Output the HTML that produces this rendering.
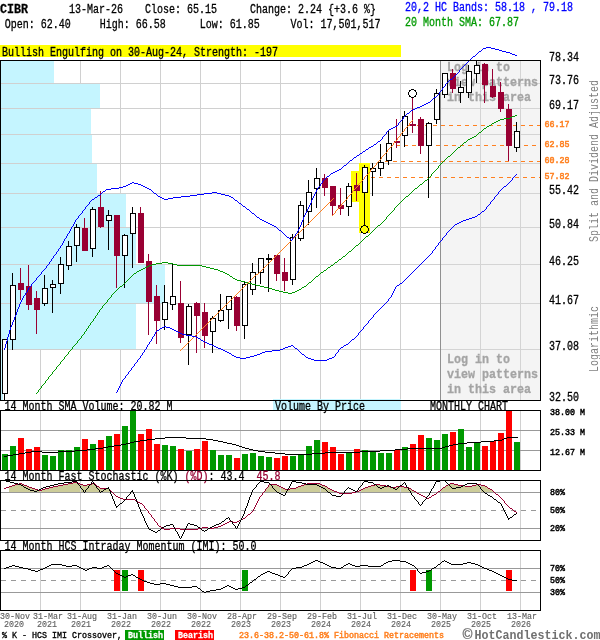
<!DOCTYPE html>
<html><head><meta charset="utf-8"><title>CIBR Monthly Chart</title>
<style>
html,body{margin:0;padding:0;background:#fff;}
svg{display:block;font-family:"Liberation Mono", monospace;}
svg rect,svg line,svg path{shape-rendering:crispEdges;}
</style></head><body>
<svg width="600" height="640" viewBox="0 0 600 640">
<rect x="0" y="0" width="600" height="640" fill="#fff"/>
<text x="0" y="13" font-size="13.5" fill="#000" font-weight="bold" textLength="28" lengthAdjust="spacingAndGlyphs" style="white-space:pre" stroke="#000" stroke-width="0.3">CIBR</text>
<text x="69" y="13" font-size="12.5" fill="#000" font-weight="normal" textLength="54" lengthAdjust="spacingAndGlyphs" style="white-space:pre" stroke="#000" stroke-width="0.3">13-Mar-26</text>
<text x="145" y="13" font-size="12.5" fill="#000" font-weight="normal" textLength="72" lengthAdjust="spacingAndGlyphs" style="white-space:pre" stroke="#000" stroke-width="0.3">Close: 65.15</text>
<text x="250" y="13" font-size="12.5" fill="#000" font-weight="normal" textLength="126" lengthAdjust="spacingAndGlyphs" style="white-space:pre" stroke="#000" stroke-width="0.3">Change: 2.24 {+3.6 %}</text>
<text x="4.7" y="28" font-size="12.5" fill="#000" font-weight="normal" textLength="66" lengthAdjust="spacingAndGlyphs" style="white-space:pre" stroke="#000" stroke-width="0.3">Open: 62.40</text>
<text x="99.7" y="28" font-size="12.5" fill="#000" font-weight="normal" textLength="66" lengthAdjust="spacingAndGlyphs" style="white-space:pre" stroke="#000" stroke-width="0.3">High: 66.58</text>
<text x="199.7" y="28" font-size="12.5" fill="#000" font-weight="normal" textLength="60" lengthAdjust="spacingAndGlyphs" style="white-space:pre" stroke="#000" stroke-width="0.3">Low: 61.85</text>
<text x="290.5" y="28" font-size="12.5" fill="#000" font-weight="normal" textLength="90" lengthAdjust="spacingAndGlyphs" style="white-space:pre" stroke="#000" stroke-width="0.3">Vol: 17,501,517</text>
<text x="405" y="11" font-size="12.5" fill="#0000ff" font-weight="normal" textLength="168" lengthAdjust="spacingAndGlyphs" style="white-space:pre" stroke="#0000ff" stroke-width="0.3">20,2 HC Bands: 58.18 , 79.18</text>
<text x="405" y="26" font-size="12.5" fill="#009900" font-weight="normal" textLength="114" lengthAdjust="spacingAndGlyphs" style="white-space:pre" stroke="#009900" stroke-width="0.3">20 Month SMA: 67.87</text>
<rect x="0" y="45" width="401" height="12" fill="#ffff00"/>
<text x="2" y="56" font-size="12.5" fill="#000" font-weight="normal" textLength="276" lengthAdjust="spacingAndGlyphs" style="white-space:pre" stroke="#000" stroke-width="0.3">Bullish Engulfing on 30-Aug-24, Strength: -197</text>
<rect x="40" y="61" width="1" height="339" fill="#d0d0d0"/>
<rect x="80" y="61" width="1" height="339" fill="#d0d0d0"/>
<rect x="120" y="61" width="1" height="339" fill="#d0d0d0"/>
<rect x="160" y="61" width="1" height="339" fill="#d0d0d0"/>
<rect x="200" y="61" width="1" height="339" fill="#d0d0d0"/>
<rect x="240" y="61" width="1" height="339" fill="#d0d0d0"/>
<rect x="280" y="61" width="1" height="339" fill="#d0d0d0"/>
<rect x="320" y="61" width="1" height="339" fill="#d0d0d0"/>
<rect x="360" y="61" width="1" height="339" fill="#d0d0d0"/>
<rect x="400" y="61" width="1" height="339" fill="#d0d0d0"/>
<rect x="440" y="61" width="1" height="339" fill="#d0d0d0"/>
<rect x="480" y="61" width="1" height="339" fill="#d0d0d0"/>
<rect x="520" y="61" width="1" height="339" fill="#d0d0d0"/>
<rect x="1" y="61" width="53" height="23" fill="#c5f5ff"/>
<rect x="1" y="84" width="99" height="25" fill="#c5f5ff"/>
<rect x="1" y="109" width="90" height="26" fill="#c5f5ff"/>
<rect x="1" y="135" width="91" height="29" fill="#c5f5ff"/>
<rect x="1" y="164" width="96" height="30" fill="#c5f5ff"/>
<rect x="1" y="194" width="125" height="34" fill="#c5f5ff"/>
<rect x="1" y="228" width="135" height="37" fill="#c5f5ff"/>
<rect x="1" y="265" width="164" height="39" fill="#c5f5ff"/>
<rect x="1" y="304" width="135" height="46" fill="#c5f5ff"/>
<rect x="1" y="350" width="2" height="50" fill="#c5f5ff"/>
<rect x="441" y="61" width="99" height="339" fill="#f4f4f4"/>
<rect x="480" y="61" width="1" height="339" fill="#d4d4d4"/>
<rect x="520" y="61" width="1" height="339" fill="#d4d4d4"/>
<rect x="1" y="83" width="440" height="1" fill="#d0d0d0"/>
<rect x="441" y="83" width="99" height="1" fill="#d4d4d4"/>
<rect x="1" y="108" width="440" height="1" fill="#d0d0d0"/>
<rect x="441" y="108" width="99" height="1" fill="#d4d4d4"/>
<rect x="1" y="134" width="440" height="1" fill="#d0d0d0"/>
<rect x="441" y="134" width="99" height="1" fill="#d4d4d4"/>
<rect x="1" y="163" width="440" height="1" fill="#d0d0d0"/>
<rect x="441" y="163" width="99" height="1" fill="#d4d4d4"/>
<rect x="1" y="193" width="440" height="1" fill="#d0d0d0"/>
<rect x="441" y="193" width="99" height="1" fill="#d4d4d4"/>
<rect x="1" y="227" width="440" height="1" fill="#d0d0d0"/>
<rect x="441" y="227" width="99" height="1" fill="#d4d4d4"/>
<rect x="1" y="264" width="440" height="1" fill="#d0d0d0"/>
<rect x="441" y="264" width="99" height="1" fill="#d4d4d4"/>
<rect x="1" y="303" width="440" height="1" fill="#d0d0d0"/>
<rect x="441" y="303" width="99" height="1" fill="#d4d4d4"/>
<rect x="1" y="349" width="440" height="1" fill="#d0d0d0"/>
<rect x="441" y="349" width="99" height="1" fill="#d4d4d4"/>
<rect x="440" y="61" width="1" height="339" fill="#909090"/>
<text x="447" y="71" font-size="13.5" fill="#a4a4a4" font-weight="bold" textLength="63" lengthAdjust="spacingAndGlyphs" style="white-space:pre" stroke="#a4a4a4" stroke-width="0.3">Log in to</text>
<text x="447" y="363" font-size="13.5" fill="#a4a4a4" font-weight="bold" textLength="63" lengthAdjust="spacingAndGlyphs" style="white-space:pre" stroke="#a4a4a4" stroke-width="0.3">Log in to</text>
<text x="447" y="86" font-size="13.5" fill="#a4a4a4" font-weight="bold" textLength="91" lengthAdjust="spacingAndGlyphs" style="white-space:pre" stroke="#a4a4a4" stroke-width="0.3">view patterns</text>
<text x="447" y="378" font-size="13.5" fill="#a4a4a4" font-weight="bold" textLength="91" lengthAdjust="spacingAndGlyphs" style="white-space:pre" stroke="#a4a4a4" stroke-width="0.3">view patterns</text>
<text x="447" y="101" font-size="13.5" fill="#a4a4a4" font-weight="bold" textLength="84" lengthAdjust="spacingAndGlyphs" style="white-space:pre" stroke="#a4a4a4" stroke-width="0.3">in this area</text>
<text x="447" y="393" font-size="13.5" fill="#a4a4a4" font-weight="bold" textLength="84" lengthAdjust="spacingAndGlyphs" style="white-space:pre" stroke="#a4a4a4" stroke-width="0.3">in this area</text>
<rect x="351" y="171" width="8" height="31" fill="#ffff00"/>
<rect x="359" y="163" width="11" height="70" fill="#ffff00"/>
<line x1="409" y1="125.5" x2="540" y2="125.5" stroke="#ff8020" stroke-width="1" stroke-dasharray="4,4"/>
<line x1="396" y1="145.5" x2="540" y2="145.5" stroke="#ff8020" stroke-width="1" stroke-dasharray="4,4"/>
<line x1="385" y1="161.5" x2="540" y2="161.5" stroke="#ff8020" stroke-width="1" stroke-dasharray="4,4"/>
<line x1="371" y1="177.5" x2="540" y2="177.5" stroke="#ff8020" stroke-width="1" stroke-dasharray="4,4"/>
<rect x="4" y="393" width="1" height="8" fill="#000"/>
<rect x="2.5" y="339.5" width="5" height="54" fill="#fff" stroke="#000" stroke-width="1"/>
<rect x="12" y="273" width="1" height="13" fill="#000"/>
<rect x="12" y="339" width="1" height="11" fill="#000"/>
<rect x="10.5" y="285.5" width="5" height="54" fill="#fff" stroke="#000" stroke-width="1"/>
<rect x="20" y="268" width="1" height="32" fill="#990033"/>
<rect x="18" y="283" width="6" height="7" fill="#990033"/>
<rect x="28" y="265" width="1" height="45" fill="#990033"/>
<rect x="26" y="286" width="6" height="19" fill="#990033"/>
<rect x="36" y="291" width="1" height="43" fill="#990033"/>
<rect x="34" y="298" width="6" height="12" fill="#990033"/>
<rect x="44" y="275" width="1" height="14" fill="#000"/>
<rect x="44" y="303" width="1" height="3" fill="#000"/>
<rect x="42.5" y="288.5" width="5" height="15" fill="#fff" stroke="#000" stroke-width="1"/>
<rect x="52" y="280" width="1" height="5" fill="#000"/>
<rect x="52" y="287" width="1" height="26" fill="#000"/>
<rect x="50.5" y="284.5" width="5" height="3" fill="#fff" stroke="#000" stroke-width="1"/>
<rect x="60" y="257" width="1" height="8" fill="#000"/>
<rect x="60" y="283" width="1" height="11" fill="#000"/>
<rect x="58.5" y="264.5" width="5" height="19" fill="#fff" stroke="#000" stroke-width="1"/>
<rect x="68" y="241" width="1" height="6" fill="#000"/>
<rect x="68" y="265" width="1" height="5" fill="#000"/>
<rect x="66.5" y="246.5" width="5" height="19" fill="#fff" stroke="#000" stroke-width="1"/>
<rect x="76" y="224" width="1" height="4" fill="#000"/>
<rect x="76" y="245" width="1" height="17" fill="#000"/>
<rect x="74.5" y="227.5" width="5" height="18" fill="#fff" stroke="#000" stroke-width="1"/>
<rect x="84" y="218" width="1" height="33" fill="#990033"/>
<rect x="82" y="228" width="6" height="23" fill="#990033"/>
<rect x="92" y="207" width="1" height="3" fill="#000"/>
<rect x="92" y="248" width="1" height="9" fill="#000"/>
<rect x="90.5" y="209.5" width="5" height="39" fill="#fff" stroke="#000" stroke-width="1"/>
<rect x="100" y="191" width="1" height="37" fill="#990033"/>
<rect x="98" y="207" width="6" height="20" fill="#990033"/>
<rect x="108" y="210" width="1" height="6" fill="#000"/>
<rect x="108" y="220" width="1" height="30" fill="#000"/>
<rect x="106.5" y="215.5" width="5" height="5" fill="#fff" stroke="#000" stroke-width="1"/>
<rect x="116" y="215" width="1" height="73" fill="#990033"/>
<rect x="114" y="215" width="6" height="41" fill="#990033"/>
<rect x="124" y="234" width="1" height="2" fill="#000"/>
<rect x="124" y="255" width="1" height="33" fill="#000"/>
<rect x="122.5" y="235.5" width="5" height="20" fill="#fff" stroke="#000" stroke-width="1"/>
<rect x="132" y="207" width="1" height="7" fill="#000"/>
<rect x="132" y="233" width="1" height="35" fill="#000"/>
<rect x="130.5" y="213.5" width="5" height="20" fill="#fff" stroke="#000" stroke-width="1"/>
<rect x="140" y="207" width="1" height="56" fill="#990033"/>
<rect x="138" y="213" width="6" height="50" fill="#990033"/>
<rect x="148" y="254" width="1" height="81" fill="#990033"/>
<rect x="146" y="261" width="6" height="41" fill="#990033"/>
<rect x="156" y="285" width="1" height="59" fill="#990033"/>
<rect x="154" y="296" width="6" height="25" fill="#990033"/>
<rect x="164" y="285" width="1" height="18" fill="#000"/>
<rect x="164" y="319" width="1" height="11" fill="#000"/>
<rect x="162.5" y="302.5" width="5" height="17" fill="#fff" stroke="#000" stroke-width="1"/>
<rect x="172" y="263" width="1" height="34" fill="#000"/>
<rect x="172" y="304" width="1" height="6" fill="#000"/>
<rect x="170.5" y="296.5" width="5" height="8" fill="#fff" stroke="#000" stroke-width="1"/>
<rect x="180" y="281" width="1" height="62" fill="#990033"/>
<rect x="178" y="303" width="6" height="35" fill="#990033"/>
<rect x="188" y="304" width="1" height="3" fill="#000"/>
<rect x="188" y="334" width="1" height="31" fill="#000"/>
<rect x="186.5" y="306.5" width="5" height="28" fill="#fff" stroke="#000" stroke-width="1"/>
<rect x="196" y="302" width="1" height="51" fill="#990033"/>
<rect x="194" y="303" width="6" height="13" fill="#990033"/>
<rect x="204" y="303" width="1" height="45" fill="#990033"/>
<rect x="202" y="312" width="6" height="24" fill="#990033"/>
<rect x="212" y="316" width="1" height="3" fill="#000"/>
<rect x="212" y="331" width="1" height="22" fill="#000"/>
<rect x="210.5" y="318.5" width="5" height="13" fill="#fff" stroke="#000" stroke-width="1"/>
<rect x="220" y="294" width="1" height="17" fill="#000"/>
<rect x="220" y="320" width="1" height="2" fill="#000"/>
<rect x="218.5" y="310.5" width="5" height="10" fill="#fff" stroke="#000" stroke-width="1"/>
<rect x="228" y="309" width="1" height="20" fill="#000"/>
<rect x="226.5" y="296.5" width="5" height="13" fill="#fff" stroke="#000" stroke-width="1"/>
<rect x="236" y="296" width="1" height="35" fill="#990033"/>
<rect x="234" y="297" width="6" height="29" fill="#990033"/>
<rect x="244" y="281" width="1" height="4" fill="#000"/>
<rect x="244" y="325" width="1" height="14" fill="#000"/>
<rect x="242.5" y="284.5" width="5" height="41" fill="#fff" stroke="#000" stroke-width="1"/>
<rect x="252" y="263" width="1" height="10" fill="#000"/>
<rect x="252" y="289" width="1" height="6" fill="#000"/>
<rect x="250.5" y="272.5" width="5" height="17" fill="#fff" stroke="#000" stroke-width="1"/>
<rect x="260" y="272" width="1" height="12" fill="#000"/>
<rect x="258.5" y="258.5" width="5" height="14" fill="#fff" stroke="#000" stroke-width="1"/>
<rect x="268" y="254" width="1" height="5" fill="#000"/>
<rect x="268" y="259" width="1" height="33" fill="#000"/>
<rect x="266" y="258" width="6" height="2" fill="#000"/>
<rect x="276" y="255" width="1" height="26" fill="#990033"/>
<rect x="274" y="255" width="6" height="19" fill="#990033"/>
<rect x="284" y="258" width="1" height="33" fill="#990033"/>
<rect x="282" y="272" width="6" height="9" fill="#990033"/>
<rect x="292" y="234" width="1" height="4" fill="#000"/>
<rect x="292" y="279" width="1" height="6" fill="#000"/>
<rect x="290.5" y="237.5" width="5" height="42" fill="#fff" stroke="#000" stroke-width="1"/>
<rect x="300" y="201" width="1" height="5" fill="#000"/>
<rect x="300" y="238" width="1" height="3" fill="#000"/>
<rect x="298.5" y="205.5" width="5" height="33" fill="#fff" stroke="#000" stroke-width="1"/>
<rect x="308" y="180" width="1" height="13" fill="#000"/>
<rect x="308" y="211" width="1" height="14" fill="#000"/>
<rect x="306.5" y="192.5" width="5" height="19" fill="#fff" stroke="#000" stroke-width="1"/>
<rect x="316" y="168" width="1" height="11" fill="#000"/>
<rect x="316" y="188" width="1" height="20" fill="#000"/>
<rect x="314.5" y="178.5" width="5" height="10" fill="#fff" stroke="#000" stroke-width="1"/>
<rect x="324" y="174" width="1" height="22" fill="#990033"/>
<rect x="322" y="178" width="6" height="10" fill="#990033"/>
<rect x="332" y="186" width="1" height="30" fill="#990033"/>
<rect x="330" y="186" width="6" height="20" fill="#990033"/>
<rect x="340" y="188" width="1" height="27" fill="#990033"/>
<rect x="338" y="205" width="6" height="4" fill="#990033"/>
<rect x="348" y="183" width="1" height="4" fill="#000"/>
<rect x="348" y="206" width="1" height="10" fill="#000"/>
<rect x="346.5" y="186.5" width="5" height="20" fill="#fff" stroke="#000" stroke-width="1"/>
<rect x="356" y="173" width="1" height="28" fill="#990033"/>
<rect x="354" y="185" width="6" height="6" fill="#990033"/>
<rect x="364" y="165" width="1" height="3" fill="#000"/>
<rect x="364" y="192" width="1" height="34" fill="#000"/>
<rect x="362.5" y="167.5" width="5" height="25" fill="#fff" stroke="#000" stroke-width="1"/>
<rect x="372" y="163" width="1" height="6" fill="#000"/>
<rect x="372" y="171" width="1" height="25" fill="#000"/>
<rect x="370.5" y="168.5" width="5" height="3" fill="#fff" stroke="#000" stroke-width="1"/>
<rect x="380" y="144" width="1" height="19" fill="#000"/>
<rect x="380" y="168" width="1" height="8" fill="#000"/>
<rect x="378.5" y="162.5" width="5" height="6" fill="#fff" stroke="#000" stroke-width="1"/>
<rect x="388" y="130" width="1" height="14" fill="#000"/>
<rect x="388" y="160" width="1" height="5" fill="#000"/>
<rect x="386.5" y="143.5" width="5" height="17" fill="#fff" stroke="#000" stroke-width="1"/>
<rect x="396" y="119" width="1" height="29" fill="#990033"/>
<rect x="394" y="141" width="6" height="2" fill="#990033"/>
<rect x="404" y="111" width="1" height="6" fill="#000"/>
<rect x="404" y="135" width="1" height="12" fill="#000"/>
<rect x="402.5" y="116.5" width="5" height="19" fill="#fff" stroke="#000" stroke-width="1"/>
<rect x="412" y="97" width="1" height="36" fill="#990033"/>
<rect x="410" y="124" width="6" height="2" fill="#990033"/>
<rect x="420" y="117" width="1" height="37" fill="#990033"/>
<rect x="418" y="119" width="6" height="27" fill="#990033"/>
<rect x="428" y="122" width="1" height="2" fill="#000"/>
<rect x="428" y="145" width="1" height="53" fill="#000"/>
<rect x="426.5" y="123.5" width="5" height="22" fill="#fff" stroke="#000" stroke-width="1"/>
<rect x="436" y="89" width="1" height="5" fill="#000"/>
<rect x="436" y="119" width="1" height="5" fill="#000"/>
<rect x="434.5" y="93.5" width="5" height="26" fill="#fff" stroke="#000" stroke-width="1"/>
<rect x="444" y="94" width="1" height="4" fill="#000"/>
<rect x="442.5" y="73.5" width="5" height="21" fill="#fff" stroke="#000" stroke-width="1"/>
<rect x="452" y="69" width="1" height="24" fill="#990033"/>
<rect x="450" y="73" width="6" height="16" fill="#990033"/>
<rect x="460" y="81" width="1" height="7" fill="#000"/>
<rect x="460" y="92" width="1" height="11" fill="#000"/>
<rect x="458.5" y="87.5" width="5" height="5" fill="#fff" stroke="#000" stroke-width="1"/>
<rect x="468" y="65" width="1" height="7" fill="#000"/>
<rect x="468" y="92" width="1" height="6" fill="#000"/>
<rect x="466.5" y="71.5" width="5" height="21" fill="#fff" stroke="#000" stroke-width="1"/>
<rect x="476" y="61" width="1" height="5" fill="#000"/>
<rect x="476" y="73" width="1" height="10" fill="#000"/>
<rect x="474.5" y="65.5" width="5" height="8" fill="#fff" stroke="#000" stroke-width="1"/>
<rect x="484" y="63" width="1" height="40" fill="#990033"/>
<rect x="482" y="64" width="6" height="21" fill="#990033"/>
<rect x="492" y="69" width="1" height="29" fill="#990033"/>
<rect x="490" y="86" width="6" height="11" fill="#990033"/>
<rect x="500" y="82" width="1" height="30" fill="#990033"/>
<rect x="498" y="92" width="6" height="17" fill="#990033"/>
<rect x="508" y="104" width="1" height="57" fill="#990033"/>
<rect x="506" y="109" width="6" height="37" fill="#990033"/>
<rect x="516" y="122" width="1" height="10" fill="#000"/>
<rect x="516" y="147" width="1" height="5" fill="#000"/>
<rect x="514.5" y="131.5" width="5" height="16" fill="#fff" stroke="#000" stroke-width="1"/>
<path d="M333 198.5h1M332 199.5h1M331 200.5h1M330 201.5h1M329 202.5h1M328 203.5h1M327 204.5h1M326 205.5h1M325 206.5h1M324 207.5h1M323 208.5h1M322 209.5h1M321 210.5h1M320 211.5h1M319 212.5h1M318 213.5h1M317 214.5h1M316 215.5h1M315 216.5h1M314 217.5h1M313 218.5h1M312 219.5h1M311 220.5h1M310 221.5h1M309 222.5h1M308 223.5h1M307 224.5h1M306 225.5h1M305 226.5h1M304 227.5h1M303 228.5h1M302 229.5h1M301 230.5h1M300 231.5h1M299 232.5h1M298 233.5h1M297 234.5h1M296 235.5h1M295 236.5h1M294 237.5h1M293 238.5h1M292 239.5h1M291 240.5h1M290 241.5h1M289 242.5h1M288 243.5h1M287 244.5h1M286 245.5h1M285 246.5h1M284 247.5h1M283 248.5h1M282 249.5h1M281 250.5h1M280 251.5h1M279 252.5h1M278 253.5h1M277 254.5h1M276 255.5h1M275 256.5h1M274 257.5h1M273 258.5h1M272 259.5h1M271 260.5h1M270 261.5h1M269 262.5h1M268 263.5h1M267 264.5h1M266 265.5h1M265 266.5h1M264 267.5h1M263 268.5h1M262 269.5h1M261 270.5h1M260 271.5h1M259 272.5h1M258 273.5h1M256 274.5h2M255 275.5h1M254 276.5h1M253 277.5h1M252 278.5h1M251 279.5h1M250 280.5h1M249 281.5h1M248 282.5h1M247 283.5h1M246 284.5h1M245 285.5h1M244 286.5h1M243 287.5h1M242 288.5h1M241 289.5h1M240 290.5h1M239 291.5h1M238 292.5h1M237 293.5h1M236 294.5h1M235 295.5h1M234 296.5h1M233 297.5h1M232 298.5h1M231 299.5h1M230 300.5h1M229 301.5h1M228 302.5h1M227 303.5h1M226 304.5h1M225 305.5h1M224 306.5h1M223 307.5h1M222 308.5h1M221 309.5h1M220 310.5h1M219 311.5h1M218 312.5h1M217 313.5h1M216 314.5h1M215 315.5h1M214 316.5h1M213 317.5h1M212 318.5h1M211 319.5h1M210 320.5h1M209 321.5h1M208 322.5h1M207 323.5h1M206 324.5h1M205 325.5h1M204 326.5h1M203 327.5h1M202 328.5h1M201 329.5h1M200 330.5h1M199 331.5h1M198 332.5h1M197 333.5h1M196 334.5h1M195 335.5h1M194 336.5h1M193 337.5h1M192 338.5h1M191 339.5h1M190 340.5h1M189 341.5h1M188 342.5h1M187 343.5h1M186 344.5h1M185 345.5h1M184 346.5h1M183 347.5h1M182 348.5h1M181 349.5h1M180 350.5h1" stroke="#ff8020" stroke-width="1" fill="none"/>
<path d="M412 120.5h1M411 121.5h1M410 122.5h1M409 123.5h1M409 124.5h1M408 125.5h1M407 126.5h1M406 127.5h1M405 128.5h1M404 129.5h1M404 130.5h1M403 131.5h1M402 132.5h1M401 133.5h1M400 134.5h1M400 135.5h1M399 136.5h1M398 137.5h1M397 138.5h1M397 139.5h1M396 140.5h1M395 141.5h1M394 142.5h1M393 143.5h1M393 144.5h1M392 145.5h1M391 146.5h1M390 147.5h1M389 148.5h1M388 149.5h1M387 150.5h1M387 151.5h1M386 152.5h1M385 153.5h1M384 154.5h1M383 155.5h1M382 156.5h1M381 157.5h1M381 158.5h1M380 159.5h1M379 160.5h1M378 161.5h1M377 162.5h1M376 163.5h1M376 164.5h1M375 165.5h1M374 166.5h1M373 167.5h1M372 168.5h1M371 169.5h1M370 170.5h1M370 171.5h1M369 172.5h1M368 173.5h1M367 174.5h1M366 175.5h1M365 176.5h1M364 177.5h1M364 178.5h1M363 179.5h1M362 180.5h1M361 181.5h1M360 182.5h1M359 183.5h1M358 184.5h1M358 185.5h1M357 186.5h1M356 187.5h1M355 188.5h1M354 189.5h1M353 190.5h1M352 191.5h1M352 192.5h1M351 193.5h1M350 194.5h1M349 195.5h1M348 196.5h1M347 197.5h1M347 198.5h1M346 199.5h1M345 200.5h1M344 201.5h1M343 202.5h1M342 203.5h1M341 204.5h1M341 205.5h1M340 206.5h1M339 207.5h1M338 208.5h1M337 209.5h1M336 210.5h1M335 211.5h1M335 212.5h1M334 213.5h1M333 214.5h1M332 215.5h1" stroke="#ff8020" stroke-width="1" fill="none"/>
<path d="M363 225.5h3M361 226.5h2M366 226.5h2M361 227.5h1M367 227.5h1M360 228.5h1M368 228.5h1M360 229.5h1M368 229.5h1M360 230.5h1M368 230.5h1M361 231.5h1M367 231.5h1M361 232.5h2M366 232.5h2M363 233.5h3" stroke="#000" stroke-width="1" fill="none"/>
<path d="M411 89.5h3M409 90.5h2M414 90.5h2M409 91.5h1M415 91.5h1M408 92.5h1M416 92.5h1M408 93.5h1M416 93.5h1M408 94.5h1M416 94.5h1M409 95.5h1M415 95.5h1M409 96.5h2M414 96.5h2M411 97.5h3" stroke="#000" stroke-width="1" fill="none"/>
<path d="M486 47.5h5M483 48.5h3M491 48.5h4M482 49.5h1M495 49.5h4M481 50.5h1M499 50.5h3M479 51.5h2M502 51.5h4M478 52.5h1M506 52.5h4M477 53.5h1M510 53.5h2M476 54.5h1M512 54.5h3M475 55.5h1M515 55.5h2M473 56.5h2M472 57.5h1M471 58.5h1M470 59.5h1M469 60.5h1M468 61.5h1M467 62.5h1M466 63.5h1M465 64.5h1M464 65.5h1M463 66.5h1M462 67.5h1M461 68.5h1M460 69.5h1M459 70.5h1M459 71.5h1M458 72.5h1M457 73.5h1M456 74.5h1M455 75.5h1M454 76.5h1M453 77.5h1M452 78.5h1M450 79.5h2M449 80.5h1M448 81.5h1M447 82.5h1M446 83.5h1M445 84.5h1M445 85.5h1M444 86.5h1M443 87.5h1M442 88.5h1M442 89.5h1M441 90.5h1M440 91.5h1M439 92.5h1M439 93.5h1M438 94.5h1M437 95.5h1M436 96.5h1M434 97.5h2M433 98.5h1M432 99.5h1M431 100.5h1M430 101.5h1M428 102.5h2M426 103.5h2M424 104.5h2M422 105.5h2M420 106.5h2M417 107.5h3M415 108.5h2M413 109.5h2M411 110.5h2M410 111.5h1M409 112.5h1M407 113.5h2M406 114.5h1M405 115.5h1M404 116.5h1M403 117.5h1M403 118.5h1M402 119.5h1M401 120.5h1M400 121.5h1M399 122.5h1M398 123.5h1M398 124.5h1M397 125.5h1M395 126.5h2M393 127.5h2M391 128.5h2M389 129.5h2M388 130.5h1M387 131.5h1M386 132.5h1M386 133.5h1M385 134.5h1M384 135.5h1M383 136.5h1M382 137.5h1M382 138.5h1M381 139.5h1M380 140.5h1M378 141.5h2M377 142.5h1M376 143.5h1M374 144.5h2M373 145.5h1M371 146.5h2M369 147.5h2M368 148.5h1M366 149.5h2M365 150.5h1M363 151.5h2M362 152.5h1M360 153.5h2M359 154.5h1M357 155.5h2M356 156.5h1M354 157.5h2M353 158.5h1M352 159.5h1M350 160.5h2M349 161.5h1M348 162.5h1M347 163.5h1M346 164.5h1M344 165.5h2M343 166.5h1M342 167.5h1M341 168.5h1M339 169.5h2M337 170.5h2M335 171.5h2M333 172.5h2M331 173.5h2M330 174.5h1M329 175.5h1M327 176.5h2M326 177.5h1M325 178.5h1M324 179.5h1M323 180.5h1M322 181.5h1M132 182.5h2M322 182.5h1M130 183.5h2M134 183.5h4M321 183.5h1M128 184.5h2M138 184.5h3M320 184.5h1M126 185.5h2M141 185.5h2M320 185.5h1M123 186.5h3M143 186.5h2M319 186.5h1M119 187.5h4M145 187.5h2M318 187.5h1M111 188.5h8M147 188.5h2M317 188.5h1M106 189.5h5M149 189.5h2M317 189.5h1M105 190.5h1M151 190.5h1M316 190.5h1M103 191.5h2M152 191.5h1M316 191.5h1M102 192.5h1M153 192.5h1M212 192.5h5M315 192.5h1M101 193.5h1M154 193.5h2M204 193.5h8M217 193.5h4M315 193.5h1M100 194.5h1M156 194.5h1M197 194.5h7M221 194.5h4M314 194.5h1M98 195.5h2M157 195.5h1M190 195.5h7M225 195.5h4M314 195.5h1M97 196.5h1M158 196.5h2M181 196.5h9M229 196.5h2M313 196.5h1M95 197.5h2M160 197.5h2M173 197.5h8M231 197.5h2M313 197.5h1M94 198.5h1M162 198.5h2M168 198.5h5M233 198.5h1M312 198.5h1M92 199.5h2M164 199.5h4M234 199.5h1M312 199.5h1M91 200.5h1M235 200.5h2M311 200.5h1M90 201.5h1M237 201.5h1M311 201.5h1M89 202.5h1M238 202.5h1M311 202.5h1M89 203.5h1M239 203.5h2M310 203.5h1M88 204.5h1M241 204.5h1M310 204.5h1M87 205.5h1M242 205.5h1M309 205.5h1M86 206.5h1M243 206.5h2M309 206.5h1M85 207.5h1M245 207.5h1M308 207.5h1M85 208.5h1M246 208.5h1M308 208.5h1M84 209.5h1M247 209.5h2M307 209.5h1M83 210.5h1M249 210.5h1M307 210.5h1M82 211.5h1M250 211.5h1M306 211.5h1M82 212.5h1M251 212.5h1M306 212.5h1M81 213.5h1M252 213.5h2M305 213.5h1M80 214.5h1M254 214.5h1M305 214.5h1M79 215.5h1M255 215.5h1M304 215.5h1M78 216.5h1M256 216.5h1M304 216.5h1M78 217.5h1M257 217.5h2M303 217.5h1M77 218.5h1M259 218.5h1M303 218.5h1M76 219.5h1M260 219.5h2M303 219.5h1M75 220.5h1M262 220.5h2M302 220.5h1M75 221.5h1M264 221.5h2M302 221.5h1M74 222.5h1M266 222.5h2M301 222.5h1M74 223.5h1M268 223.5h2M301 223.5h1M73 224.5h1M270 224.5h2M301 224.5h1M73 225.5h1M272 225.5h2M300 225.5h1M72 226.5h1M274 226.5h2M300 226.5h1M71 227.5h1M276 227.5h1M299 227.5h1M71 228.5h1M277 228.5h1M299 228.5h1M70 229.5h1M278 229.5h1M298 229.5h1M70 230.5h1M279 230.5h2M298 230.5h1M69 231.5h1M281 231.5h1M297 231.5h1M69 232.5h1M282 232.5h1M297 232.5h1M68 233.5h1M283 233.5h1M296 233.5h1M67 234.5h1M284 234.5h1M295 234.5h1M67 235.5h1M285 235.5h1M295 235.5h1M66 236.5h1M286 236.5h1M294 236.5h1M66 237.5h1M287 237.5h2M293 237.5h1M65 238.5h1M289 238.5h1M292 238.5h1M64 239.5h1M290 239.5h1M292 239.5h1M64 240.5h1M291 240.5h1M63 241.5h1M63 242.5h1M62 243.5h1M62 244.5h1M61 245.5h1M60 246.5h1M60 247.5h1M59 248.5h1M58 249.5h1M58 250.5h1M57 251.5h1M56 252.5h1M56 253.5h1M55 254.5h1M54 255.5h1M53 256.5h1M53 257.5h1M52 258.5h1M51 259.5h1M51 260.5h1M50 261.5h1M49 262.5h1M49 263.5h1M48 264.5h1M47 265.5h1M46 266.5h1M46 267.5h1M45 268.5h1M44 269.5h1M43 270.5h1M42 271.5h1M41 272.5h1M41 273.5h1M40 274.5h1M39 275.5h1M38 276.5h1M37 277.5h1M36 278.5h1M36 279.5h1M35 280.5h1M34 281.5h1M33 282.5h1M32 283.5h1M31 284.5h1M31 285.5h1M30 286.5h1M29 287.5h1M28 288.5h1M28 289.5h1M27 290.5h1M27 291.5h1M26 292.5h1M25 293.5h1M25 294.5h1M24 295.5h1M23 296.5h1M23 297.5h1M22 298.5h1M22 299.5h1M21 300.5h1M21 301.5h1M20 302.5h1M20 303.5h1M19 304.5h1M19 305.5h1M19 306.5h1M18 307.5h1M18 308.5h1M17 309.5h1M17 310.5h1M17 311.5h1M16 312.5h1M16 313.5h1M16 314.5h1M15 315.5h1M15 316.5h1M14 317.5h1M14 318.5h1M14 319.5h1M13 320.5h1M13 321.5h1M12 322.5h1M12 323.5h1M12 324.5h1M11 325.5h1M11 326.5h1M10 327.5h1M10 328.5h1M10 329.5h1M9 330.5h1M9 331.5h1M9 332.5h1M9 333.5h1M8 334.5h1M8 335.5h1M8 336.5h1M7 337.5h1M7 338.5h1M7 339.5h1M7 340.5h1M6 341.5h1M6 342.5h1M6 343.5h1M5 344.5h1M5 345.5h1M5 346.5h1M5 347.5h1M4 348.5h1M4 349.5h1" stroke="#0000ff" stroke-width="1" fill="none"/>
<path d="M516 174.5h1M515 175.5h1M514 176.5h1M513 177.5h1M512 178.5h1M512 179.5h1M511 180.5h1M510 181.5h1M509 182.5h1M508 183.5h1M507 184.5h1M506 185.5h1M504 186.5h2M503 187.5h1M502 188.5h1M501 189.5h1M500 190.5h1M499 191.5h1M498 192.5h1M498 193.5h1M497 194.5h1M496 195.5h1M495 196.5h1M494 197.5h1M494 198.5h1M493 199.5h1M492 200.5h1M491 201.5h1M490 202.5h1M490 203.5h1M489 204.5h1M488 205.5h1M487 206.5h1M486 207.5h1M486 208.5h1M485 209.5h1M484 210.5h1M482 211.5h2M481 212.5h1M480 213.5h1M478 214.5h2M477 215.5h1M475 216.5h2M472 217.5h3M469 218.5h3M466 219.5h3M463 220.5h3M461 221.5h2M459 222.5h2M457 223.5h2M455 224.5h2M454 225.5h1M453 226.5h1M452 227.5h1M451 228.5h1M450 229.5h1M449 230.5h1M448 231.5h1M447 232.5h1M446 233.5h1M446 234.5h1M445 235.5h1M444 236.5h1M443 237.5h1M442 238.5h1M442 239.5h1M441 240.5h1M440 241.5h1M439 242.5h1M438 243.5h1M438 244.5h1M437 245.5h1M436 246.5h1M435 247.5h1M435 248.5h1M434 249.5h1M433 250.5h1M432 251.5h1M432 252.5h1M431 253.5h1M430 254.5h1M429 255.5h1M428 256.5h1M427 257.5h1M426 258.5h1M425 259.5h1M424 260.5h1M423 261.5h1M422 262.5h1M421 263.5h1M420 264.5h1M419 265.5h1M418 266.5h1M417 267.5h1M416 268.5h1M415 269.5h1M414 270.5h1M413 271.5h1M412 272.5h1M411 273.5h1M410 274.5h1M409 275.5h1M408 276.5h1M407 277.5h1M406 278.5h1M405 279.5h1M404 280.5h1M403 281.5h1M402 282.5h1M400 283.5h2M399 284.5h1M397 285.5h2M396 286.5h1M395 287.5h1M395 288.5h1M394 289.5h1M394 290.5h1M393 291.5h1M393 292.5h1M392 293.5h1M392 294.5h1M391 295.5h1M391 296.5h1M390 297.5h1M389 298.5h1M388 299.5h1M388 300.5h1M387 301.5h1M386 302.5h1M385 303.5h1M384 304.5h1M383 305.5h1M382 306.5h1M381 307.5h1M380 308.5h1M379 309.5h1M378 310.5h1M377 311.5h1M376 312.5h1M375 313.5h1M374 314.5h1M373 315.5h1M373 316.5h1M372 317.5h1M371 318.5h1M370 319.5h1M369 320.5h1M368 321.5h1M368 322.5h1M367 323.5h1M366 324.5h1M365 325.5h1M164 326.5h2M364 326.5h1M162 327.5h2M166 327.5h4M363 327.5h1M160 328.5h2M170 328.5h2M363 328.5h1M159 329.5h1M172 329.5h2M362 329.5h1M157 330.5h2M174 330.5h2M361 330.5h1M156 331.5h1M176 331.5h2M360 331.5h1M155 332.5h1M178 332.5h2M359 332.5h1M155 333.5h1M180 333.5h2M358 333.5h1M154 334.5h1M182 334.5h4M358 334.5h1M154 335.5h1M186 335.5h6M357 335.5h1M153 336.5h1M192 336.5h4M356 336.5h1M152 337.5h1M196 337.5h2M355 337.5h1M152 338.5h1M198 338.5h2M354 338.5h1M151 339.5h1M200 339.5h1M352 339.5h2M151 340.5h1M201 340.5h2M351 340.5h1M150 341.5h1M203 341.5h2M350 341.5h1M149 342.5h1M205 342.5h2M349 342.5h1M149 343.5h1M207 343.5h2M348 343.5h1M148 344.5h1M209 344.5h3M346 344.5h2M147 345.5h1M212 345.5h2M291 345.5h2M344 345.5h2M147 346.5h1M214 346.5h2M288 346.5h3M293 346.5h1M343 346.5h1M146 347.5h1M216 347.5h2M285 347.5h3M294 347.5h1M341 347.5h2M146 348.5h1M218 348.5h3M283 348.5h2M295 348.5h2M340 348.5h1M145 349.5h1M221 349.5h2M280 349.5h3M297 349.5h1M339 349.5h1M144 350.5h1M223 350.5h2M272 350.5h8M298 350.5h1M338 350.5h1M144 351.5h1M225 351.5h2M265 351.5h7M299 351.5h1M338 351.5h1M143 352.5h1M227 352.5h2M262 352.5h3M300 352.5h1M337 352.5h1M142 353.5h1M229 353.5h2M260 353.5h2M301 353.5h1M336 353.5h1M142 354.5h1M231 354.5h1M257 354.5h3M302 354.5h2M335 354.5h1M141 355.5h1M232 355.5h2M254 355.5h3M304 355.5h1M335 355.5h1M140 356.5h1M234 356.5h2M250 356.5h4M305 356.5h1M334 356.5h1M140 357.5h1M236 357.5h4M246 357.5h4M306 357.5h2M332 357.5h2M139 358.5h1M240 358.5h6M308 358.5h3M329 358.5h3M138 359.5h1M311 359.5h3M327 359.5h2M137 360.5h1M314 360.5h13M137 361.5h1M136 362.5h1M135 363.5h1M134 364.5h1M134 365.5h1M133 366.5h1M132 367.5h1M131 368.5h1M131 369.5h1M130 370.5h1M129 371.5h1M128 372.5h1M128 373.5h1M127 374.5h1M126 375.5h1M125 376.5h1M125 377.5h1M124 378.5h1M123 379.5h1M122 380.5h1M122 381.5h1M121 382.5h1M121 383.5h1M120 384.5h1M120 385.5h1M119 386.5h1M119 387.5h1M118 388.5h1M118 389.5h1M117 390.5h1M117 391.5h1M116 392.5h1" stroke="#0000ff" stroke-width="1" fill="none"/>
<path d="M515 115.5h2M512 116.5h3M510 117.5h2M504 118.5h6M500 119.5h4M498 120.5h2M496 121.5h2M494 122.5h2M492 123.5h2M491 124.5h1M489 125.5h2M487 126.5h2M486 127.5h1M484 128.5h2M483 129.5h1M482 130.5h1M481 131.5h1M479 132.5h2M478 133.5h1M477 134.5h1M476 135.5h1M474 136.5h2M472 137.5h2M470 138.5h2M468 139.5h2M467 140.5h1M466 141.5h1M464 142.5h2M463 143.5h1M462 144.5h1M461 145.5h1M460 146.5h1M458 147.5h2M457 148.5h1M456 149.5h1M455 150.5h1M454 151.5h1M453 152.5h1M452 153.5h1M451 154.5h1M450 155.5h1M448 156.5h2M447 157.5h1M446 158.5h1M445 159.5h1M444 160.5h1M443 161.5h1M442 162.5h1M441 163.5h1M440 164.5h1M439 165.5h1M438 166.5h1M438 167.5h1M437 168.5h1M436 169.5h1M435 170.5h1M434 171.5h1M433 172.5h1M432 173.5h1M431 174.5h1M431 175.5h1M430 176.5h1M429 177.5h1M428 178.5h1M427 179.5h1M425 180.5h2M424 181.5h1M423 182.5h1M422 183.5h1M420 184.5h2M419 185.5h1M418 186.5h1M417 187.5h1M415 188.5h2M414 189.5h1M413 190.5h1M412 191.5h1M411 192.5h1M410 193.5h1M409 194.5h1M408 195.5h1M406 196.5h2M405 197.5h1M404 198.5h1M403 199.5h1M402 200.5h1M401 201.5h1M400 202.5h1M399 203.5h1M398 204.5h1M397 205.5h1M396 206.5h1M395 207.5h1M394 208.5h1M394 209.5h1M393 210.5h1M392 211.5h1M391 212.5h1M390 213.5h1M389 214.5h1M388 215.5h1M387 216.5h1M386 217.5h1M386 218.5h1M385 219.5h1M384 220.5h1M383 221.5h1M382 222.5h1M381 223.5h1M380 224.5h1M378 225.5h2M377 226.5h1M376 227.5h1M375 228.5h1M374 229.5h1M373 230.5h1M372 231.5h1M371 232.5h1M370 233.5h1M369 234.5h1M368 235.5h1M366 236.5h2M365 237.5h1M364 238.5h1M363 239.5h1M362 240.5h1M361 241.5h1M360 242.5h1M359 243.5h1M358 244.5h1M356 245.5h2M355 246.5h1M354 247.5h1M353 248.5h1M352 249.5h1M351 250.5h1M349 251.5h2M348 252.5h1M347 253.5h1M346 254.5h1M345 255.5h1M343 256.5h2M342 257.5h1M341 258.5h1M339 259.5h2M338 260.5h1M337 261.5h1M162 262.5h6M335 262.5h2M156 263.5h6M168 263.5h5M334 263.5h1M152 264.5h4M173 264.5h4M333 264.5h1M149 265.5h3M177 265.5h25M331 265.5h2M147 266.5h2M202 266.5h4M330 266.5h1M145 267.5h2M206 267.5h4M328 267.5h2M143 268.5h2M210 268.5h4M327 268.5h1M141 269.5h2M214 269.5h4M326 269.5h1M139 270.5h2M218 270.5h2M324 270.5h2M137 271.5h2M220 271.5h3M323 271.5h1M136 272.5h1M223 272.5h2M321 272.5h2M134 273.5h2M225 273.5h2M320 273.5h1M133 274.5h1M227 274.5h2M319 274.5h1M132 275.5h1M229 275.5h1M318 275.5h1M131 276.5h1M230 276.5h2M316 276.5h2M130 277.5h1M232 277.5h1M315 277.5h1M129 278.5h1M233 278.5h2M314 278.5h1M128 279.5h1M235 279.5h2M313 279.5h1M127 280.5h1M237 280.5h4M312 280.5h1M126 281.5h1M241 281.5h4M311 281.5h1M125 282.5h1M245 282.5h3M309 282.5h2M124 283.5h1M248 283.5h4M308 283.5h1M123 284.5h1M252 284.5h4M307 284.5h1M122 285.5h1M256 285.5h4M306 285.5h1M120 286.5h2M260 286.5h4M304 286.5h2M119 287.5h1M264 287.5h4M302 287.5h2M118 288.5h1M268 288.5h4M301 288.5h1M117 289.5h1M272 289.5h3M299 289.5h2M116 290.5h1M275 290.5h4M297 290.5h2M115 291.5h1M279 291.5h4M295 291.5h2M114 292.5h1M283 292.5h5M292 292.5h3M113 293.5h1M288 293.5h4M112 294.5h1M111 295.5h1M111 296.5h1M110 297.5h1M109 298.5h1M108 299.5h1M107 300.5h1M107 301.5h1M106 302.5h1M105 303.5h1M104 304.5h1M103 305.5h1M102 306.5h1M102 307.5h1M101 308.5h1M100 309.5h1M99 310.5h1M99 311.5h1M98 312.5h1M97 313.5h1M97 314.5h1M96 315.5h1M95 316.5h1M95 317.5h1M94 318.5h1M93 319.5h1M93 320.5h1M92 321.5h1M91 322.5h1M90 323.5h1M90 324.5h1M89 325.5h1M88 326.5h1M88 327.5h1M87 328.5h1M86 329.5h1M86 330.5h1M85 331.5h1M84 332.5h1M84 333.5h1M83 334.5h1M82 335.5h1M81 336.5h1M81 337.5h1M80 338.5h1M79 339.5h1M78 340.5h1M77 341.5h1M77 342.5h1M76 343.5h1M75 344.5h1M74 345.5h1M73 346.5h1M72 347.5h1M72 348.5h1M71 349.5h1M70 350.5h1M69 351.5h1M68 352.5h1M68 353.5h1M67 354.5h1M66 355.5h1M65 356.5h1M64 357.5h1M64 358.5h1M63 359.5h1M62 360.5h1M61 361.5h1M60 362.5h1M60 363.5h1M59 364.5h1M58 365.5h1M57 366.5h1M56 367.5h1M56 368.5h1M55 369.5h1M54 370.5h1M53 371.5h1M52 372.5h1M52 373.5h1M51 374.5h1M50 375.5h1M49 376.5h1M48 377.5h1M48 378.5h1M47 379.5h1M46 380.5h1M45 381.5h1M45 382.5h1M44 383.5h1M43 384.5h1M42 385.5h1M41 386.5h1M41 387.5h1M40 388.5h1M39 389.5h1M38 390.5h1M38 391.5h1M37 392.5h1M36 393.5h1" stroke="#009900" stroke-width="1" fill="none"/>
<rect x="0" y="60" width="541" height="1" fill="#000"/>
<rect x="0" y="400" width="541" height="1" fill="#000"/>
<rect x="0" y="60" width="1" height="341" fill="#000"/>
<rect x="540" y="60" width="1" height="341" fill="#000"/>
<text x="549" y="61" font-size="12.5" fill="#000" font-weight="normal" textLength="30" lengthAdjust="spacingAndGlyphs" style="white-space:pre" stroke="#000" stroke-width="0.3">78.34</text>
<text x="549" y="84" font-size="12.5" fill="#000" font-weight="normal" textLength="30" lengthAdjust="spacingAndGlyphs" style="white-space:pre" stroke="#000" stroke-width="0.3">73.76</text>
<text x="549" y="109" font-size="12.5" fill="#000" font-weight="normal" textLength="30" lengthAdjust="spacingAndGlyphs" style="white-space:pre" stroke="#000" stroke-width="0.3">69.17</text>
<text x="549" y="194" font-size="12.5" fill="#000" font-weight="normal" textLength="30" lengthAdjust="spacingAndGlyphs" style="white-space:pre" stroke="#000" stroke-width="0.3">55.42</text>
<text x="549" y="228" font-size="12.5" fill="#000" font-weight="normal" textLength="30" lengthAdjust="spacingAndGlyphs" style="white-space:pre" stroke="#000" stroke-width="0.3">50.84</text>
<text x="549" y="265" font-size="12.5" fill="#000" font-weight="normal" textLength="30" lengthAdjust="spacingAndGlyphs" style="white-space:pre" stroke="#000" stroke-width="0.3">46.25</text>
<text x="549" y="304" font-size="12.5" fill="#000" font-weight="normal" textLength="30" lengthAdjust="spacingAndGlyphs" style="white-space:pre" stroke="#000" stroke-width="0.3">41.67</text>
<text x="549" y="350" font-size="12.5" fill="#000" font-weight="normal" textLength="30" lengthAdjust="spacingAndGlyphs" style="white-space:pre" stroke="#000" stroke-width="0.3">37.08</text>
<text x="549" y="401" font-size="12.5" fill="#000" font-weight="normal" textLength="30" lengthAdjust="spacingAndGlyphs" style="white-space:pre" stroke="#000" stroke-width="0.3">32.50</text>
<text x="544.5" y="127" font-size="9.5" fill="#ff8020" font-weight="normal" textLength="25" lengthAdjust="spacingAndGlyphs" style="white-space:pre" stroke="#ff8020" stroke-width="0.55">66.17</text>
<text x="544.5" y="147" font-size="9.5" fill="#ff8020" font-weight="normal" textLength="25" lengthAdjust="spacingAndGlyphs" style="white-space:pre" stroke="#ff8020" stroke-width="0.55">62.85</text>
<text x="544.5" y="163" font-size="9.5" fill="#ff8020" font-weight="normal" textLength="25" lengthAdjust="spacingAndGlyphs" style="white-space:pre" stroke="#ff8020" stroke-width="0.55">60.28</text>
<text x="544.5" y="179" font-size="9.5" fill="#ff8020" font-weight="normal" textLength="25" lengthAdjust="spacingAndGlyphs" style="white-space:pre" stroke="#ff8020" stroke-width="0.55">57.82</text>
<text transform="translate(598,242) rotate(-90)" font-size="13" fill="#808080" textLength="162" lengthAdjust="spacingAndGlyphs">Split and Dividend Adjusted</text>
<text transform="translate(598,372) rotate(-90)" font-size="13" fill="#808080" textLength="66" lengthAdjust="spacingAndGlyphs">Logarithmic</text>
<text x="4.5" y="410" font-size="12.5" fill="#000" font-weight="normal" textLength="168" lengthAdjust="spacingAndGlyphs" style="white-space:pre" stroke="#000" stroke-width="0.3">14 Month SMA Volume: 20.82 M</text>
<rect x="273" y="399" width="128" height="11" fill="#c5f5ff"/>
<rect x="273" y="400" width="129" height="1" fill="#000"/>
<text x="275" y="410" font-size="12.5" fill="#000" font-weight="normal" textLength="90" lengthAdjust="spacingAndGlyphs" style="white-space:pre" stroke="#000" stroke-width="0.3">Volume By Price</text>
<text x="430" y="410" font-size="12.5" fill="#000" font-weight="normal" textLength="78" lengthAdjust="spacingAndGlyphs" style="white-space:pre" stroke="#000" stroke-width="0.3">MONTHLY CHART</text>
<rect x="40" y="411" width="1" height="59" fill="#d0d0d0"/>
<rect x="80" y="411" width="1" height="59" fill="#d0d0d0"/>
<rect x="120" y="411" width="1" height="59" fill="#d0d0d0"/>
<rect x="160" y="411" width="1" height="59" fill="#d0d0d0"/>
<rect x="200" y="411" width="1" height="59" fill="#d0d0d0"/>
<rect x="240" y="411" width="1" height="59" fill="#d0d0d0"/>
<rect x="280" y="411" width="1" height="59" fill="#d0d0d0"/>
<rect x="320" y="411" width="1" height="59" fill="#d0d0d0"/>
<rect x="360" y="411" width="1" height="59" fill="#d0d0d0"/>
<rect x="400" y="411" width="1" height="59" fill="#d0d0d0"/>
<rect x="440" y="411" width="1" height="59" fill="#d0d0d0"/>
<rect x="480" y="411" width="1" height="59" fill="#d0d0d0"/>
<rect x="520" y="411" width="1" height="59" fill="#d0d0d0"/>
<rect x="1" y="430" width="539" height="1" fill="#999"/>
<rect x="1" y="450" width="539" height="1" fill="#999"/>
<rect x="2" y="454" width="6" height="16" fill="#009900"/>
<rect x="10" y="446" width="6" height="24" fill="#009900"/>
<rect x="18" y="438" width="6" height="32" fill="#ff0000"/>
<rect x="26" y="449" width="6" height="21" fill="#ff0000"/>
<rect x="34" y="447" width="6" height="23" fill="#ff0000"/>
<rect x="42" y="455" width="6" height="15" fill="#009900"/>
<rect x="50" y="456" width="6" height="14" fill="#009900"/>
<rect x="58" y="450" width="6" height="20" fill="#009900"/>
<rect x="66" y="450" width="6" height="20" fill="#009900"/>
<rect x="74" y="447" width="6" height="23" fill="#009900"/>
<rect x="82" y="439" width="6" height="31" fill="#ff0000"/>
<rect x="90" y="444" width="6" height="26" fill="#009900"/>
<rect x="98" y="440" width="6" height="30" fill="#ff0000"/>
<rect x="106" y="436" width="6" height="34" fill="#009900"/>
<rect x="114" y="434" width="6" height="36" fill="#ff0000"/>
<rect x="122" y="426" width="6" height="44" fill="#009900"/>
<rect x="130" y="411" width="6" height="59" fill="#009900"/>
<rect x="138" y="434" width="6" height="36" fill="#ff0000"/>
<rect x="146" y="429" width="6" height="41" fill="#ff0000"/>
<rect x="154" y="444" width="6" height="26" fill="#ff0000"/>
<rect x="162" y="445" width="6" height="25" fill="#009900"/>
<rect x="170" y="446" width="6" height="24" fill="#009900"/>
<rect x="178" y="449" width="6" height="21" fill="#ff0000"/>
<rect x="186" y="451" width="6" height="19" fill="#009900"/>
<rect x="194" y="449" width="6" height="21" fill="#ff0000"/>
<rect x="202" y="441" width="6" height="29" fill="#ff0000"/>
<rect x="210" y="450" width="6" height="20" fill="#009900"/>
<rect x="218" y="455" width="6" height="15" fill="#009900"/>
<rect x="226" y="455" width="6" height="15" fill="#009900"/>
<rect x="234" y="458" width="6" height="12" fill="#ff0000"/>
<rect x="242" y="454" width="6" height="16" fill="#009900"/>
<rect x="250" y="453" width="6" height="17" fill="#009900"/>
<rect x="258" y="456" width="6" height="14" fill="#009900"/>
<rect x="266" y="457" width="6" height="13" fill="#009900"/>
<rect x="274" y="458" width="6" height="12" fill="#ff0000"/>
<rect x="282" y="456" width="6" height="14" fill="#ff0000"/>
<rect x="290" y="456" width="6" height="14" fill="#009900"/>
<rect x="298" y="455" width="6" height="15" fill="#009900"/>
<rect x="306" y="446" width="6" height="24" fill="#009900"/>
<rect x="314" y="440" width="6" height="30" fill="#009900"/>
<rect x="322" y="442" width="6" height="28" fill="#ff0000"/>
<rect x="330" y="447" width="6" height="23" fill="#ff0000"/>
<rect x="338" y="454" width="6" height="16" fill="#ff0000"/>
<rect x="346" y="452" width="6" height="18" fill="#009900"/>
<rect x="354" y="449" width="6" height="21" fill="#ff0000"/>
<rect x="362" y="450" width="6" height="20" fill="#009900"/>
<rect x="370" y="452" width="6" height="18" fill="#009900"/>
<rect x="378" y="453" width="6" height="17" fill="#009900"/>
<rect x="386" y="453" width="6" height="17" fill="#009900"/>
<rect x="394" y="450" width="6" height="20" fill="#ff0000"/>
<rect x="402" y="447" width="6" height="23" fill="#009900"/>
<rect x="410" y="444" width="6" height="26" fill="#ff0000"/>
<rect x="418" y="435" width="6" height="35" fill="#ff0000"/>
<rect x="426" y="438" width="6" height="32" fill="#009900"/>
<rect x="434" y="440" width="6" height="30" fill="#009900"/>
<rect x="442" y="434" width="6" height="36" fill="#009900"/>
<rect x="450" y="432" width="6" height="38" fill="#ff0000"/>
<rect x="458" y="429" width="6" height="41" fill="#009900"/>
<rect x="466" y="447" width="6" height="23" fill="#009900"/>
<rect x="474" y="442" width="6" height="28" fill="#009900"/>
<rect x="482" y="446" width="6" height="24" fill="#ff0000"/>
<rect x="490" y="441" width="6" height="29" fill="#ff0000"/>
<rect x="498" y="433" width="6" height="37" fill="#ff0000"/>
<rect x="506" y="411" width="6" height="59" fill="#ff0000"/>
<rect x="514" y="442" width="6" height="28" fill="#009900"/>
<path d="M165 437.5h21M507 437.5h11M155 438.5h10M186 438.5h20M504 438.5h3M147 439.5h8M206 439.5h7M502 439.5h2M140 440.5h7M213 440.5h5M494 440.5h8M134 441.5h6M218 441.5h5M481 441.5h13M130 442.5h4M223 442.5h4M467 442.5h14M126 443.5h4M227 443.5h5M458 443.5h9M121 444.5h5M232 444.5h4M453 444.5h5M114 445.5h7M236 445.5h3M449 445.5h4M108 446.5h6M239 446.5h3M445 446.5h4M103 447.5h5M242 447.5h3M442 447.5h3M95 448.5h8M245 448.5h4M407 448.5h35M87 449.5h8M249 449.5h4M395 449.5h12M75 450.5h12M253 450.5h5M380 450.5h15M31 451.5h11M58 451.5h17M258 451.5h7M360 451.5h20M25 452.5h6M42 452.5h16M265 452.5h10M325 452.5h35M19 453.5h6M275 453.5h10M312 453.5h13M13 454.5h6M285 454.5h27M7 455.5h6M4 456.5h3" stroke="#000" stroke-width="1" fill="none"/>
<rect x="0" y="410" width="541" height="1" fill="#000"/>
<rect x="0" y="470" width="541" height="1" fill="#000"/>
<rect x="0" y="410" width="1" height="61" fill="#000"/>
<rect x="540" y="410" width="1" height="61" fill="#000"/>
<text x="550" y="415" font-size="9.5" fill="#000" font-weight="normal" textLength="35" lengthAdjust="spacingAndGlyphs" style="white-space:pre" stroke="#000" stroke-width="0.5">38.00 M</text>
<text x="550" y="435" font-size="9.5" fill="#000" font-weight="normal" textLength="35" lengthAdjust="spacingAndGlyphs" style="white-space:pre" stroke="#000" stroke-width="0.5">25.33 M</text>
<text x="550" y="455" font-size="9.5" fill="#000" font-weight="normal" textLength="35" lengthAdjust="spacingAndGlyphs" style="white-space:pre" stroke="#000" stroke-width="0.5">12.67 M</text>
<text x="4.5" y="480" font-size="12.5" fill="#000" font-weight="normal" textLength="174" lengthAdjust="spacingAndGlyphs" style="white-space:pre" stroke="#000" stroke-width="0.3">14 Month Fast Stochastic (%K)</text>
<text x="184.5" y="480" font-size="12.5" fill="#990033" font-weight="normal" textLength="24" lengthAdjust="spacingAndGlyphs" style="white-space:pre" stroke="#990033" stroke-width="0.3">(%D)</text>
<text x="208.5" y="480" font-size="12.5" fill="#000" font-weight="normal" textLength="36" lengthAdjust="spacingAndGlyphs" style="white-space:pre" stroke="#000" stroke-width="0.3">: 43.4</text>
<text x="256.5" y="480" font-size="12.5" fill="#990033" font-weight="normal" textLength="24" lengthAdjust="spacingAndGlyphs" style="white-space:pre" stroke="#990033" stroke-width="0.3">45.8</text>
<rect x="9" y="487.0" width="1" height="5.0" fill="#cccc99"/>
<rect x="10" y="486.6" width="1" height="5.4" fill="#cccc99"/>
<rect x="11" y="486.3" width="1" height="5.7" fill="#cccc99"/>
<rect x="12" y="486.0" width="1" height="6.0" fill="#cccc99"/>
<rect x="13" y="485.6" width="1" height="6.4" fill="#cccc99"/>
<rect x="14" y="485.3" width="1" height="6.7" fill="#cccc99"/>
<rect x="15" y="485.0" width="1" height="7.0" fill="#cccc99"/>
<rect x="16" y="484.7" width="1" height="7.3" fill="#cccc99"/>
<rect x="17" y="484.4" width="1" height="7.6" fill="#cccc99"/>
<rect x="18" y="484.0" width="1" height="8.0" fill="#cccc99"/>
<rect x="19" y="483.7" width="1" height="8.3" fill="#cccc99"/>
<rect x="20" y="483.4" width="1" height="8.6" fill="#cccc99"/>
<rect x="21" y="483.8" width="1" height="8.2" fill="#cccc99"/>
<rect x="22" y="484.1" width="1" height="7.9" fill="#cccc99"/>
<rect x="23" y="484.5" width="1" height="7.5" fill="#cccc99"/>
<rect x="24" y="484.8" width="1" height="7.2" fill="#cccc99"/>
<rect x="25" y="485.2" width="1" height="6.8" fill="#cccc99"/>
<rect x="26" y="485.6" width="1" height="6.4" fill="#cccc99"/>
<rect x="27" y="485.9" width="1" height="6.1" fill="#cccc99"/>
<rect x="28" y="486.3" width="1" height="5.7" fill="#cccc99"/>
<rect x="29" y="486.6" width="1" height="5.4" fill="#cccc99"/>
<rect x="30" y="487.0" width="1" height="5.0" fill="#cccc99"/>
<rect x="31" y="487.4" width="1" height="4.6" fill="#cccc99"/>
<rect x="32" y="487.8" width="1" height="4.2" fill="#cccc99"/>
<rect x="33" y="488.2" width="1" height="3.8" fill="#cccc99"/>
<rect x="34" y="488.7" width="1" height="3.3" fill="#cccc99"/>
<rect x="35" y="489.1" width="1" height="2.9" fill="#cccc99"/>
<rect x="36" y="489.5" width="1" height="2.5" fill="#cccc99"/>
<rect x="37" y="489.6" width="1" height="2.4" fill="#cccc99"/>
<rect x="38" y="489.8" width="1" height="2.2" fill="#cccc99"/>
<rect x="39" y="489.9" width="1" height="2.1" fill="#cccc99"/>
<rect x="40" y="490.0" width="1" height="2.0" fill="#cccc99"/>
<rect x="41" y="489.8" width="1" height="2.2" fill="#cccc99"/>
<rect x="42" y="489.5" width="1" height="2.5" fill="#cccc99"/>
<rect x="43" y="489.3" width="1" height="2.7" fill="#cccc99"/>
<rect x="44" y="489.0" width="1" height="3.0" fill="#cccc99"/>
<rect x="45" y="488.8" width="1" height="3.2" fill="#cccc99"/>
<rect x="46" y="488.6" width="1" height="3.4" fill="#cccc99"/>
<rect x="47" y="488.3" width="1" height="3.7" fill="#cccc99"/>
<rect x="48" y="488.1" width="1" height="3.9" fill="#cccc99"/>
<rect x="49" y="487.8" width="1" height="4.2" fill="#cccc99"/>
<rect x="50" y="487.6" width="1" height="4.4" fill="#cccc99"/>
<rect x="51" y="487.3" width="1" height="4.7" fill="#cccc99"/>
<rect x="52" y="487.1" width="1" height="4.9" fill="#cccc99"/>
<rect x="53" y="486.8" width="1" height="5.2" fill="#cccc99"/>
<rect x="54" y="486.6" width="1" height="5.4" fill="#cccc99"/>
<rect x="55" y="486.3" width="1" height="5.7" fill="#cccc99"/>
<rect x="56" y="486.0" width="1" height="6.0" fill="#cccc99"/>
<rect x="57" y="485.8" width="1" height="6.2" fill="#cccc99"/>
<rect x="58" y="485.5" width="1" height="6.5" fill="#cccc99"/>
<rect x="59" y="485.3" width="1" height="6.7" fill="#cccc99"/>
<rect x="60" y="485.0" width="1" height="7.0" fill="#cccc99"/>
<rect x="61" y="484.8" width="1" height="7.2" fill="#cccc99"/>
<rect x="62" y="484.7" width="1" height="7.3" fill="#cccc99"/>
<rect x="63" y="484.5" width="1" height="7.5" fill="#cccc99"/>
<rect x="64" y="484.3" width="1" height="7.7" fill="#cccc99"/>
<rect x="65" y="484.1" width="1" height="7.9" fill="#cccc99"/>
<rect x="66" y="484.0" width="1" height="8.0" fill="#cccc99"/>
<rect x="67" y="483.8" width="1" height="8.2" fill="#cccc99"/>
<rect x="68" y="483.6" width="1" height="8.4" fill="#cccc99"/>
<rect x="69" y="483.4" width="1" height="8.6" fill="#cccc99"/>
<rect x="70" y="483.3" width="1" height="8.7" fill="#cccc99"/>
<rect x="71" y="483.1" width="1" height="8.9" fill="#cccc99"/>
<rect x="72" y="482.9" width="1" height="9.1" fill="#cccc99"/>
<rect x="73" y="482.7" width="1" height="9.3" fill="#cccc99"/>
<rect x="74" y="482.6" width="1" height="9.4" fill="#cccc99"/>
<rect x="75" y="482.4" width="1" height="9.6" fill="#cccc99"/>
<rect x="76" y="482.7" width="1" height="9.3" fill="#cccc99"/>
<rect x="77" y="483.0" width="1" height="9.0" fill="#cccc99"/>
<rect x="78" y="483.3" width="1" height="8.7" fill="#cccc99"/>
<rect x="79" y="483.6" width="1" height="8.4" fill="#cccc99"/>
<rect x="80" y="483.8" width="1" height="8.2" fill="#cccc99"/>
<rect x="81" y="484.1" width="1" height="7.9" fill="#cccc99"/>
<rect x="82" y="484.4" width="1" height="7.6" fill="#cccc99"/>
<rect x="83" y="484.7" width="1" height="7.3" fill="#cccc99"/>
<rect x="84" y="485.0" width="1" height="7.0" fill="#cccc99"/>
<rect x="85" y="484.8" width="1" height="7.2" fill="#cccc99"/>
<rect x="86" y="484.7" width="1" height="7.3" fill="#cccc99"/>
<rect x="87" y="484.5" width="1" height="7.5" fill="#cccc99"/>
<rect x="88" y="484.4" width="1" height="7.6" fill="#cccc99"/>
<rect x="89" y="484.2" width="1" height="7.8" fill="#cccc99"/>
<rect x="90" y="484.0" width="1" height="8.0" fill="#cccc99"/>
<rect x="91" y="483.9" width="1" height="8.1" fill="#cccc99"/>
<rect x="92" y="483.7" width="1" height="8.3" fill="#cccc99"/>
<rect x="93" y="483.6" width="1" height="8.4" fill="#cccc99"/>
<rect x="94" y="483.4" width="1" height="8.6" fill="#cccc99"/>
<rect x="95" y="484.3" width="1" height="7.7" fill="#cccc99"/>
<rect x="96" y="485.1" width="1" height="6.9" fill="#cccc99"/>
<rect x="97" y="486.0" width="1" height="6.0" fill="#cccc99"/>
<rect x="98" y="486.9" width="1" height="5.1" fill="#cccc99"/>
<rect x="99" y="487.7" width="1" height="4.3" fill="#cccc99"/>
<rect x="100" y="488.6" width="1" height="3.4" fill="#cccc99"/>
<rect x="101" y="488.5" width="1" height="3.5" fill="#cccc99"/>
<rect x="102" y="488.5" width="1" height="3.5" fill="#cccc99"/>
<rect x="103" y="488.4" width="1" height="3.6" fill="#cccc99"/>
<rect x="104" y="488.3" width="1" height="3.7" fill="#cccc99"/>
<rect x="105" y="488.2" width="1" height="3.8" fill="#cccc99"/>
<rect x="106" y="488.1" width="1" height="3.9" fill="#cccc99"/>
<rect x="107" y="488.1" width="1" height="3.9" fill="#cccc99"/>
<rect x="108" y="488.0" width="1" height="4.0" fill="#cccc99"/>
<rect x="109" y="489.0" width="1" height="3.0" fill="#cccc99"/>
<rect x="110" y="490.0" width="1" height="2.0" fill="#cccc99"/>
<rect x="111" y="491.0" width="1" height="1.0" fill="#cccc99"/>
<rect x="183" y="529" width="1" height="0.2" fill="#cccc99"/>
<rect x="184" y="529" width="1" height="0.4" fill="#cccc99"/>
<rect x="185" y="529" width="1" height="0.4" fill="#cccc99"/>
<rect x="186" y="529" width="1" height="0.4" fill="#cccc99"/>
<rect x="187" y="529" width="1" height="0.4" fill="#cccc99"/>
<rect x="188" y="529" width="1" height="0.4" fill="#cccc99"/>
<rect x="189" y="529" width="1" height="0.4" fill="#cccc99"/>
<rect x="190" y="529" width="1" height="0.4" fill="#cccc99"/>
<rect x="191" y="529" width="1" height="0.4" fill="#cccc99"/>
<rect x="192" y="529" width="1" height="0.4" fill="#cccc99"/>
<rect x="193" y="529" width="1" height="0.4" fill="#cccc99"/>
<rect x="194" y="529" width="1" height="0.4" fill="#cccc99"/>
<rect x="195" y="529" width="1" height="0.4" fill="#cccc99"/>
<rect x="196" y="529" width="1" height="0.4" fill="#cccc99"/>
<rect x="264" y="490.8" width="1" height="1.2" fill="#cccc99"/>
<rect x="265" y="489.6" width="1" height="2.4" fill="#cccc99"/>
<rect x="266" y="488.3" width="1" height="3.7" fill="#cccc99"/>
<rect x="267" y="487.0" width="1" height="5.0" fill="#cccc99"/>
<rect x="268" y="485.7" width="1" height="6.3" fill="#cccc99"/>
<rect x="269" y="484.4" width="1" height="7.6" fill="#cccc99"/>
<rect x="270" y="484.4" width="1" height="7.6" fill="#cccc99"/>
<rect x="271" y="484.4" width="1" height="7.6" fill="#cccc99"/>
<rect x="272" y="484.4" width="1" height="7.6" fill="#cccc99"/>
<rect x="273" y="484.4" width="1" height="7.6" fill="#cccc99"/>
<rect x="274" y="484.4" width="1" height="7.6" fill="#cccc99"/>
<rect x="275" y="484.4" width="1" height="7.6" fill="#cccc99"/>
<rect x="276" y="484.4" width="1" height="7.6" fill="#cccc99"/>
<rect x="277" y="484.9" width="1" height="7.1" fill="#cccc99"/>
<rect x="278" y="485.4" width="1" height="6.6" fill="#cccc99"/>
<rect x="279" y="486.0" width="1" height="6.0" fill="#cccc99"/>
<rect x="280" y="486.5" width="1" height="5.5" fill="#cccc99"/>
<rect x="281" y="487.0" width="1" height="5.0" fill="#cccc99"/>
<rect x="282" y="487.5" width="1" height="4.5" fill="#cccc99"/>
<rect x="283" y="488.0" width="1" height="4.0" fill="#cccc99"/>
<rect x="284" y="488.6" width="1" height="3.4" fill="#cccc99"/>
<rect x="285" y="489.1" width="1" height="2.9" fill="#cccc99"/>
<rect x="286" y="489.6" width="1" height="2.4" fill="#cccc99"/>
<rect x="287" y="489.5" width="1" height="2.5" fill="#cccc99"/>
<rect x="288" y="489.3" width="1" height="2.7" fill="#cccc99"/>
<rect x="289" y="489.1" width="1" height="2.9" fill="#cccc99"/>
<rect x="290" y="489.0" width="1" height="3.0" fill="#cccc99"/>
<rect x="291" y="488.9" width="1" height="3.1" fill="#cccc99"/>
<rect x="292" y="488.7" width="1" height="3.3" fill="#cccc99"/>
<rect x="293" y="488.5" width="1" height="3.5" fill="#cccc99"/>
<rect x="294" y="488.4" width="1" height="3.6" fill="#cccc99"/>
<rect x="295" y="488.0" width="1" height="4.0" fill="#cccc99"/>
<rect x="296" y="487.5" width="1" height="4.5" fill="#cccc99"/>
<rect x="297" y="487.1" width="1" height="4.9" fill="#cccc99"/>
<rect x="298" y="486.7" width="1" height="5.3" fill="#cccc99"/>
<rect x="299" y="486.3" width="1" height="5.7" fill="#cccc99"/>
<rect x="300" y="485.9" width="1" height="6.1" fill="#cccc99"/>
<rect x="301" y="485.4" width="1" height="6.6" fill="#cccc99"/>
<rect x="302" y="485.0" width="1" height="7.0" fill="#cccc99"/>
<rect x="303" y="484.7" width="1" height="7.3" fill="#cccc99"/>
<rect x="304" y="484.3" width="1" height="7.7" fill="#cccc99"/>
<rect x="305" y="484.0" width="1" height="8.0" fill="#cccc99"/>
<rect x="306" y="483.7" width="1" height="8.3" fill="#cccc99"/>
<rect x="307" y="483.3" width="1" height="8.7" fill="#cccc99"/>
<rect x="308" y="483.0" width="1" height="9.0" fill="#cccc99"/>
<rect x="309" y="483.1" width="1" height="8.9" fill="#cccc99"/>
<rect x="310" y="483.1" width="1" height="8.9" fill="#cccc99"/>
<rect x="311" y="483.2" width="1" height="8.8" fill="#cccc99"/>
<rect x="312" y="483.2" width="1" height="8.8" fill="#cccc99"/>
<rect x="313" y="483.3" width="1" height="8.7" fill="#cccc99"/>
<rect x="314" y="483.4" width="1" height="8.6" fill="#cccc99"/>
<rect x="315" y="483.4" width="1" height="8.6" fill="#cccc99"/>
<rect x="316" y="483.5" width="1" height="8.5" fill="#cccc99"/>
<rect x="317" y="483.5" width="1" height="8.5" fill="#cccc99"/>
<rect x="318" y="483.6" width="1" height="8.4" fill="#cccc99"/>
<rect x="319" y="484.0" width="1" height="8.0" fill="#cccc99"/>
<rect x="320" y="484.3" width="1" height="7.7" fill="#cccc99"/>
<rect x="321" y="484.6" width="1" height="7.4" fill="#cccc99"/>
<rect x="322" y="485.0" width="1" height="7.0" fill="#cccc99"/>
<rect x="323" y="485.4" width="1" height="6.6" fill="#cccc99"/>
<rect x="324" y="485.7" width="1" height="6.3" fill="#cccc99"/>
<rect x="325" y="486.0" width="1" height="6.0" fill="#cccc99"/>
<rect x="326" y="486.4" width="1" height="5.6" fill="#cccc99"/>
<rect x="327" y="487.0" width="1" height="5.0" fill="#cccc99"/>
<rect x="328" y="487.7" width="1" height="4.3" fill="#cccc99"/>
<rect x="329" y="488.4" width="1" height="3.6" fill="#cccc99"/>
<rect x="330" y="489.0" width="1" height="3.0" fill="#cccc99"/>
<rect x="331" y="489.5" width="1" height="2.5" fill="#cccc99"/>
<rect x="332" y="489.9" width="1" height="2.1" fill="#cccc99"/>
<rect x="333" y="490.4" width="1" height="1.6" fill="#cccc99"/>
<rect x="334" y="490.8" width="1" height="1.2" fill="#cccc99"/>
<rect x="335" y="491.3" width="1" height="0.7" fill="#cccc99"/>
<rect x="359" y="491.0" width="1" height="1.0" fill="#cccc99"/>
<rect x="360" y="490.5" width="1" height="1.5" fill="#cccc99"/>
<rect x="361" y="489.9" width="1" height="2.1" fill="#cccc99"/>
<rect x="362" y="489.3" width="1" height="2.7" fill="#cccc99"/>
<rect x="363" y="488.7" width="1" height="3.3" fill="#cccc99"/>
<rect x="364" y="488.1" width="1" height="3.9" fill="#cccc99"/>
<rect x="365" y="487.6" width="1" height="4.4" fill="#cccc99"/>
<rect x="366" y="487.0" width="1" height="5.0" fill="#cccc99"/>
<rect x="367" y="486.7" width="1" height="5.3" fill="#cccc99"/>
<rect x="368" y="486.5" width="1" height="5.5" fill="#cccc99"/>
<rect x="369" y="486.2" width="1" height="5.8" fill="#cccc99"/>
<rect x="370" y="486.0" width="1" height="6.0" fill="#cccc99"/>
<rect x="371" y="485.7" width="1" height="6.3" fill="#cccc99"/>
<rect x="372" y="485.4" width="1" height="6.6" fill="#cccc99"/>
<rect x="373" y="485.2" width="1" height="6.8" fill="#cccc99"/>
<rect x="374" y="484.9" width="1" height="7.1" fill="#cccc99"/>
<rect x="375" y="484.7" width="1" height="7.3" fill="#cccc99"/>
<rect x="376" y="484.4" width="1" height="7.6" fill="#cccc99"/>
<rect x="377" y="484.5" width="1" height="7.5" fill="#cccc99"/>
<rect x="378" y="484.5" width="1" height="7.5" fill="#cccc99"/>
<rect x="379" y="484.6" width="1" height="7.4" fill="#cccc99"/>
<rect x="380" y="484.7" width="1" height="7.3" fill="#cccc99"/>
<rect x="381" y="484.8" width="1" height="7.2" fill="#cccc99"/>
<rect x="382" y="484.9" width="1" height="7.1" fill="#cccc99"/>
<rect x="383" y="484.9" width="1" height="7.1" fill="#cccc99"/>
<rect x="384" y="485.0" width="1" height="7.0" fill="#cccc99"/>
<rect x="385" y="485.2" width="1" height="6.8" fill="#cccc99"/>
<rect x="386" y="485.5" width="1" height="6.5" fill="#cccc99"/>
<rect x="387" y="485.8" width="1" height="6.2" fill="#cccc99"/>
<rect x="388" y="486.0" width="1" height="6.0" fill="#cccc99"/>
<rect x="389" y="486.2" width="1" height="5.8" fill="#cccc99"/>
<rect x="390" y="486.5" width="1" height="5.5" fill="#cccc99"/>
<rect x="391" y="486.8" width="1" height="5.2" fill="#cccc99"/>
<rect x="392" y="487.0" width="1" height="5.0" fill="#cccc99"/>
<rect x="393" y="486.9" width="1" height="5.1" fill="#cccc99"/>
<rect x="394" y="486.9" width="1" height="5.1" fill="#cccc99"/>
<rect x="395" y="486.8" width="1" height="5.2" fill="#cccc99"/>
<rect x="396" y="486.7" width="1" height="5.3" fill="#cccc99"/>
<rect x="397" y="486.6" width="1" height="5.4" fill="#cccc99"/>
<rect x="398" y="486.5" width="1" height="5.5" fill="#cccc99"/>
<rect x="399" y="486.5" width="1" height="5.5" fill="#cccc99"/>
<rect x="400" y="486.4" width="1" height="5.6" fill="#cccc99"/>
<rect x="401" y="486.5" width="1" height="5.5" fill="#cccc99"/>
<rect x="402" y="486.7" width="1" height="5.3" fill="#cccc99"/>
<rect x="403" y="486.9" width="1" height="5.1" fill="#cccc99"/>
<rect x="404" y="487.0" width="1" height="5.0" fill="#cccc99"/>
<rect x="405" y="487.1" width="1" height="4.9" fill="#cccc99"/>
<rect x="406" y="487.3" width="1" height="4.7" fill="#cccc99"/>
<rect x="407" y="487.5" width="1" height="4.5" fill="#cccc99"/>
<rect x="408" y="487.6" width="1" height="4.4" fill="#cccc99"/>
<rect x="409" y="488.2" width="1" height="3.8" fill="#cccc99"/>
<rect x="410" y="488.7" width="1" height="3.3" fill="#cccc99"/>
<rect x="411" y="489.2" width="1" height="2.8" fill="#cccc99"/>
<rect x="412" y="489.8" width="1" height="2.2" fill="#cccc99"/>
<rect x="413" y="490.4" width="1" height="1.6" fill="#cccc99"/>
<rect x="414" y="490.9" width="1" height="1.1" fill="#cccc99"/>
<rect x="415" y="491.4" width="1" height="0.6" fill="#cccc99"/>
<rect x="439" y="490.9" width="1" height="1.1" fill="#cccc99"/>
<rect x="440" y="490.0" width="1" height="2.0" fill="#cccc99"/>
<rect x="441" y="489.2" width="1" height="2.8" fill="#cccc99"/>
<rect x="442" y="488.3" width="1" height="3.7" fill="#cccc99"/>
<rect x="443" y="487.5" width="1" height="4.5" fill="#cccc99"/>
<rect x="444" y="486.7" width="1" height="5.3" fill="#cccc99"/>
<rect x="445" y="485.8" width="1" height="6.2" fill="#cccc99"/>
<rect x="446" y="485.0" width="1" height="7.0" fill="#cccc99"/>
<rect x="447" y="484.7" width="1" height="7.3" fill="#cccc99"/>
<rect x="448" y="484.4" width="1" height="7.6" fill="#cccc99"/>
<rect x="449" y="484.2" width="1" height="7.8" fill="#cccc99"/>
<rect x="450" y="483.9" width="1" height="8.1" fill="#cccc99"/>
<rect x="451" y="483.6" width="1" height="8.4" fill="#cccc99"/>
<rect x="452" y="483.8" width="1" height="8.2" fill="#cccc99"/>
<rect x="453" y="484.0" width="1" height="8.0" fill="#cccc99"/>
<rect x="454" y="484.3" width="1" height="7.7" fill="#cccc99"/>
<rect x="455" y="484.5" width="1" height="7.5" fill="#cccc99"/>
<rect x="456" y="484.7" width="1" height="7.3" fill="#cccc99"/>
<rect x="457" y="484.9" width="1" height="7.1" fill="#cccc99"/>
<rect x="458" y="485.2" width="1" height="6.8" fill="#cccc99"/>
<rect x="459" y="485.4" width="1" height="6.6" fill="#cccc99"/>
<rect x="460" y="485.6" width="1" height="6.4" fill="#cccc99"/>
<rect x="461" y="485.6" width="1" height="6.4" fill="#cccc99"/>
<rect x="462" y="485.7" width="1" height="6.3" fill="#cccc99"/>
<rect x="463" y="485.7" width="1" height="6.3" fill="#cccc99"/>
<rect x="464" y="485.8" width="1" height="6.2" fill="#cccc99"/>
<rect x="465" y="485.8" width="1" height="6.2" fill="#cccc99"/>
<rect x="466" y="485.8" width="1" height="6.2" fill="#cccc99"/>
<rect x="467" y="485.9" width="1" height="6.1" fill="#cccc99"/>
<rect x="468" y="485.9" width="1" height="6.1" fill="#cccc99"/>
<rect x="469" y="486.0" width="1" height="6.0" fill="#cccc99"/>
<rect x="470" y="486.0" width="1" height="6.0" fill="#cccc99"/>
<rect x="471" y="485.8" width="1" height="6.2" fill="#cccc99"/>
<rect x="472" y="485.6" width="1" height="6.4" fill="#cccc99"/>
<rect x="473" y="485.4" width="1" height="6.6" fill="#cccc99"/>
<rect x="474" y="485.2" width="1" height="6.8" fill="#cccc99"/>
<rect x="475" y="485.0" width="1" height="7.0" fill="#cccc99"/>
<rect x="476" y="484.8" width="1" height="7.2" fill="#cccc99"/>
<rect x="477" y="484.6" width="1" height="7.4" fill="#cccc99"/>
<rect x="478" y="484.4" width="1" height="7.6" fill="#cccc99"/>
<rect x="479" y="484.6" width="1" height="7.4" fill="#cccc99"/>
<rect x="480" y="484.8" width="1" height="7.2" fill="#cccc99"/>
<rect x="481" y="485.0" width="1" height="7.0" fill="#cccc99"/>
<rect x="482" y="485.2" width="1" height="6.8" fill="#cccc99"/>
<rect x="483" y="485.4" width="1" height="6.6" fill="#cccc99"/>
<rect x="484" y="485.6" width="1" height="6.4" fill="#cccc99"/>
<rect x="485" y="486.2" width="1" height="5.8" fill="#cccc99"/>
<rect x="486" y="486.7" width="1" height="5.3" fill="#cccc99"/>
<rect x="487" y="487.2" width="1" height="4.8" fill="#cccc99"/>
<rect x="488" y="487.8" width="1" height="4.2" fill="#cccc99"/>
<rect x="489" y="488.4" width="1" height="3.6" fill="#cccc99"/>
<rect x="490" y="488.9" width="1" height="3.1" fill="#cccc99"/>
<rect x="491" y="489.4" width="1" height="2.6" fill="#cccc99"/>
<rect x="492" y="490.0" width="1" height="2.0" fill="#cccc99"/>
<rect x="493" y="490.9" width="1" height="1.1" fill="#cccc99"/>
<rect x="40" y="481" width="1" height="59" fill="#d0d0d0"/>
<rect x="80" y="481" width="1" height="59" fill="#d0d0d0"/>
<rect x="120" y="481" width="1" height="59" fill="#d0d0d0"/>
<rect x="160" y="481" width="1" height="59" fill="#d0d0d0"/>
<rect x="200" y="481" width="1" height="59" fill="#d0d0d0"/>
<rect x="240" y="481" width="1" height="59" fill="#d0d0d0"/>
<rect x="280" y="481" width="1" height="59" fill="#d0d0d0"/>
<rect x="320" y="481" width="1" height="59" fill="#d0d0d0"/>
<rect x="360" y="481" width="1" height="59" fill="#d0d0d0"/>
<rect x="400" y="481" width="1" height="59" fill="#d0d0d0"/>
<rect x="440" y="481" width="1" height="59" fill="#d0d0d0"/>
<rect x="480" y="481" width="1" height="59" fill="#d0d0d0"/>
<rect x="520" y="481" width="1" height="59" fill="#d0d0d0"/>
<rect x="1" y="492" width="539" height="1" fill="#999"/>
<rect x="1" y="528" width="539" height="1" fill="#999"/>
<line x1="1" y1="510.5" x2="540" y2="510.5" stroke="#999" stroke-width="1" stroke-dasharray="5,5"/>
<path d="M73 482.5h4M19 483.5h3M68 483.5h5M77 483.5h3M92 483.5h3M307 483.5h13M450 483.5h4M15 484.5h4M22 484.5h2M63 484.5h5M80 484.5h3M87 484.5h5M95 484.5h1M269 484.5h8M304 484.5h3M320 484.5h2M375 484.5h5M448 484.5h2M454 484.5h4M476 484.5h5M12 485.5h3M24 485.5h3M58 485.5h5M83 485.5h4M96 485.5h1M268 485.5h1M277 485.5h2M301 485.5h3M322 485.5h3M371 485.5h4M380 485.5h6M446 485.5h2M458 485.5h7M472 485.5h4M481 485.5h4M9 486.5h3M27 486.5h2M53 486.5h5M97 486.5h2M268 486.5h1M279 486.5h2M298 486.5h3M325 486.5h2M368 486.5h3M386 486.5h4M396 486.5h8M445 486.5h1M465 486.5h7M485 486.5h2M6 487.5h3M29 487.5h3M49 487.5h4M99 487.5h1M267 487.5h1M281 487.5h2M296 487.5h2M327 487.5h1M365 487.5h3M390 487.5h6M404 487.5h5M443 487.5h2M487 487.5h1M4 488.5h2M32 488.5h3M45 488.5h4M100 488.5h9M266 488.5h1M283 488.5h2M290 488.5h6M328 488.5h2M363 488.5h2M409 488.5h2M442 488.5h1M488 488.5h2M35 489.5h3M42 489.5h3M109 489.5h1M265 489.5h1M285 489.5h5M330 489.5h2M361 489.5h2M411 489.5h1M441 489.5h1M490 489.5h2M38 490.5h4M110 490.5h1M265 490.5h1M332 490.5h2M359 490.5h2M412 490.5h2M440 490.5h1M492 490.5h1M111 491.5h1M264 491.5h1M334 491.5h3M356 491.5h3M414 491.5h2M438 491.5h2M493 491.5h1M112 492.5h1M263 492.5h1M337 492.5h2M352 492.5h4M416 492.5h1M437 492.5h1M494 492.5h1M113 493.5h1M262 493.5h1M339 493.5h13M417 493.5h2M436 493.5h1M495 493.5h1M114 494.5h1M262 494.5h1M419 494.5h2M434 494.5h2M496 494.5h2M115 495.5h1M261 495.5h1M421 495.5h2M432 495.5h2M498 495.5h1M116 496.5h2M260 496.5h1M423 496.5h2M431 496.5h1M499 496.5h1M118 497.5h2M259 497.5h1M425 497.5h2M429 497.5h2M500 497.5h1M120 498.5h3M259 498.5h1M427 498.5h2M501 498.5h1M123 499.5h12M258 499.5h1M502 499.5h1M135 500.5h2M258 500.5h1M503 500.5h1M137 501.5h1M257 501.5h1M504 501.5h1M138 502.5h2M257 502.5h1M504 502.5h1M140 503.5h2M256 503.5h1M505 503.5h1M142 504.5h1M256 504.5h1M506 504.5h1M143 505.5h1M255 505.5h1M507 505.5h1M144 506.5h1M255 506.5h1M508 506.5h1M144 507.5h1M254 507.5h1M509 507.5h1M145 508.5h1M254 508.5h1M510 508.5h2M146 509.5h1M253 509.5h1M512 509.5h1M147 510.5h1M253 510.5h1M513 510.5h1M148 511.5h1M252 511.5h1M514 511.5h2M148 512.5h1M251 512.5h1M516 512.5h1M149 513.5h1M250 513.5h1M150 514.5h1M248 514.5h2M151 515.5h1M247 515.5h1M151 516.5h1M246 516.5h1M152 517.5h1M245 517.5h1M153 518.5h1M243 518.5h2M154 519.5h1M241 519.5h2M154 520.5h1M239 520.5h2M155 521.5h1M229 521.5h4M237 521.5h2M156 522.5h1M227 522.5h2M233 522.5h4M157 523.5h1M225 523.5h2M157 524.5h1M223 524.5h2M158 525.5h1M221 525.5h2M159 526.5h2M218 526.5h3M161 527.5h1M202 527.5h6M214 527.5h4M162 528.5h2M170 528.5h10M198 528.5h4M208 528.5h6M164 529.5h6M180 529.5h18" stroke="#990033" stroke-width="1" fill="none"/>
<path d="M4 480.5h2M440 480.5h5M6 481.5h4M72 481.5h5M92 481.5h1M260 481.5h4M292 481.5h4M364 481.5h4M436 481.5h4M445 481.5h1M10 482.5h4M64 482.5h8M77 482.5h1M91 482.5h1M93 482.5h1M259 482.5h1M264 482.5h5M291 482.5h1M296 482.5h6M363 482.5h1M368 482.5h5M404 482.5h1M435 482.5h1M446 482.5h1M14 483.5h4M58 483.5h6M77 483.5h1M91 483.5h1M93 483.5h1M258 483.5h1M269 483.5h1M291 483.5h1M302 483.5h4M362 483.5h1M373 483.5h1M403 483.5h1M405 483.5h1M435 483.5h1M447 483.5h1M467 483.5h10M18 484.5h3M54 484.5h4M78 484.5h1M90 484.5h1M94 484.5h1M257 484.5h1M270 484.5h1M290 484.5h1M306 484.5h11M362 484.5h1M374 484.5h2M402 484.5h1M405 484.5h1M434 484.5h1M448 484.5h1M465 484.5h2M477 484.5h1M21 485.5h2M50 485.5h4M79 485.5h1M89 485.5h1M95 485.5h1M256 485.5h1M271 485.5h1M290 485.5h1M317 485.5h2M361 485.5h1M376 485.5h1M387 485.5h2M400 485.5h2M406 485.5h1M434 485.5h1M449 485.5h1M463 485.5h2M478 485.5h1M23 486.5h1M46 486.5h4M80 486.5h1M88 486.5h1M96 486.5h1M256 486.5h1M272 486.5h1M289 486.5h1M319 486.5h2M360 486.5h1M377 486.5h1M384 486.5h3M389 486.5h2M399 486.5h1M406 486.5h1M433 486.5h1M450 486.5h1M461 486.5h2M479 486.5h1M24 487.5h2M43 487.5h3M80 487.5h1M88 487.5h1M96 487.5h1M108 487.5h1M255 487.5h1M272 487.5h1M289 487.5h1M321 487.5h2M348 487.5h1M359 487.5h1M378 487.5h2M382 487.5h2M391 487.5h2M398 487.5h1M407 487.5h1M433 487.5h1M451 487.5h1M456 487.5h5M480 487.5h1M26 488.5h2M41 488.5h2M81 488.5h1M87 488.5h1M97 488.5h1M106 488.5h3M254 488.5h1M273 488.5h1M288 488.5h1M323 488.5h2M347 488.5h1M349 488.5h2M358 488.5h1M380 488.5h2M393 488.5h2M397 488.5h1M408 488.5h1M432 488.5h1M452 488.5h4M480 488.5h1M28 489.5h2M39 489.5h2M82 489.5h1M86 489.5h1M98 489.5h1M104 489.5h2M109 489.5h1M253 489.5h1M274 489.5h1M287 489.5h1M325 489.5h1M346 489.5h1M351 489.5h2M358 489.5h1M395 489.5h2M408 489.5h1M431 489.5h1M481 489.5h1M30 490.5h4M37 490.5h2M83 490.5h1M85 490.5h1M99 490.5h1M103 490.5h1M109 490.5h1M132 490.5h1M252 490.5h1M275 490.5h1M287 490.5h1M326 490.5h1M345 490.5h1M353 490.5h2M357 490.5h1M409 490.5h1M431 490.5h1M482 490.5h1M34 491.5h3M83 491.5h1M85 491.5h1M99 491.5h1M101 491.5h2M110 491.5h1M131 491.5h2M252 491.5h1M276 491.5h1M286 491.5h1M327 491.5h1M344 491.5h1M355 491.5h2M410 491.5h1M430 491.5h1M483 491.5h1M84 492.5h1M100 492.5h1M110 492.5h1M130 492.5h1M133 492.5h1M251 492.5h1M277 492.5h2M286 492.5h1M328 492.5h2M344 492.5h1M410 492.5h1M430 492.5h1M484 492.5h1M110 493.5h1M130 493.5h1M133 493.5h1M251 493.5h1M279 493.5h2M285 493.5h1M330 493.5h1M343 493.5h1M411 493.5h1M429 493.5h1M485 493.5h2M111 494.5h1M129 494.5h1M134 494.5h1M251 494.5h1M281 494.5h2M285 494.5h1M331 494.5h1M342 494.5h1M411 494.5h1M429 494.5h1M487 494.5h1M111 495.5h1M128 495.5h1M134 495.5h1M250 495.5h1M283 495.5h2M332 495.5h4M341 495.5h1M412 495.5h1M428 495.5h1M488 495.5h2M112 496.5h1M127 496.5h1M134 496.5h1M250 496.5h1M336 496.5h5M413 496.5h1M427 496.5h1M490 496.5h2M112 497.5h1M126 497.5h1M135 497.5h1M249 497.5h1M414 497.5h1M426 497.5h1M492 497.5h1M112 498.5h1M126 498.5h1M135 498.5h1M249 498.5h1M414 498.5h1M426 498.5h1M493 498.5h1M113 499.5h1M125 499.5h1M136 499.5h1M249 499.5h1M415 499.5h1M425 499.5h1M494 499.5h2M113 500.5h1M124 500.5h1M136 500.5h1M248 500.5h1M416 500.5h1M424 500.5h1M496 500.5h1M114 501.5h1M123 501.5h1M136 501.5h1M248 501.5h1M417 501.5h1M423 501.5h1M497 501.5h1M114 502.5h1M122 502.5h1M137 502.5h1M248 502.5h1M418 502.5h1M422 502.5h1M498 502.5h2M114 503.5h1M120 503.5h2M137 503.5h1M247 503.5h1M418 503.5h1M422 503.5h1M500 503.5h1M115 504.5h1M119 504.5h1M138 504.5h1M247 504.5h1M419 504.5h1M421 504.5h1M501 504.5h1M115 505.5h1M118 505.5h1M138 505.5h1M247 505.5h1M420 505.5h1M501 505.5h1M116 506.5h2M138 506.5h1M246 506.5h1M502 506.5h1M116 507.5h1M139 507.5h1M246 507.5h1M502 507.5h1M139 508.5h1M245 508.5h1M503 508.5h1M140 509.5h1M245 509.5h1M503 509.5h1M140 510.5h1M245 510.5h1M504 510.5h1M140 511.5h1M244 511.5h1M504 511.5h1M141 512.5h1M244 512.5h1M505 512.5h1M141 513.5h1M244 513.5h1M505 513.5h1M516 513.5h1M142 514.5h1M243 514.5h1M506 514.5h1M514 514.5h2M142 515.5h1M243 515.5h1M506 515.5h1M513 515.5h1M143 516.5h1M242 516.5h1M507 516.5h1M512 516.5h1M143 517.5h1M228 517.5h1M242 517.5h1M507 517.5h1M510 517.5h2M144 518.5h1M226 518.5h2M229 518.5h1M241 518.5h1M508 518.5h2M144 519.5h1M225 519.5h1M229 519.5h1M241 519.5h1M508 519.5h1M144 520.5h1M224 520.5h1M230 520.5h1M240 520.5h1M145 521.5h1M222 521.5h2M231 521.5h1M240 521.5h1M145 522.5h1M221 522.5h1M232 522.5h1M239 522.5h1M146 523.5h1M188 523.5h2M219 523.5h2M232 523.5h1M239 523.5h1M146 524.5h1M170 524.5h3M187 524.5h1M190 524.5h4M216 524.5h3M233 524.5h1M238 524.5h1M147 525.5h1M166 525.5h4M173 525.5h1M187 525.5h1M194 525.5h3M214 525.5h2M234 525.5h1M238 525.5h1M147 526.5h1M164 526.5h2M173 526.5h1M186 526.5h1M197 526.5h1M212 526.5h2M235 526.5h1M237 526.5h1M148 527.5h1M162 527.5h2M174 527.5h1M186 527.5h1M198 527.5h2M210 527.5h2M235 527.5h1M237 527.5h1M148 528.5h1M161 528.5h1M174 528.5h1M185 528.5h1M200 528.5h1M208 528.5h2M236 528.5h1M149 529.5h2M160 529.5h1M175 529.5h1M185 529.5h1M201 529.5h1M207 529.5h1M151 530.5h2M158 530.5h2M175 530.5h1M184 530.5h1M202 530.5h2M205 530.5h2M153 531.5h2M157 531.5h1M176 531.5h1M184 531.5h1M204 531.5h1M155 532.5h2M177 532.5h1M183 532.5h1M177 533.5h1M183 533.5h1M178 534.5h1M182 534.5h1M178 535.5h1M182 535.5h1M179 536.5h1M181 536.5h1M179 537.5h1M181 537.5h1M180 538.5h1" stroke="#000" stroke-width="1" fill="none"/>
<rect x="0" y="480" width="541" height="1" fill="#000"/>
<rect x="0" y="540" width="541" height="1" fill="#000"/>
<rect x="0" y="480" width="1" height="61" fill="#000"/>
<rect x="540" y="480" width="1" height="61" fill="#000"/>
<text x="550" y="495" font-size="9.5" fill="#000" font-weight="normal" textLength="15" lengthAdjust="spacingAndGlyphs" style="white-space:pre" stroke="#000" stroke-width="0.5">80%</text>
<text x="550" y="513" font-size="9.5" fill="#000" font-weight="normal" textLength="15" lengthAdjust="spacingAndGlyphs" style="white-space:pre" stroke="#000" stroke-width="0.5">50%</text>
<text x="550" y="531" font-size="9.5" fill="#000" font-weight="normal" textLength="15" lengthAdjust="spacingAndGlyphs" style="white-space:pre" stroke="#000" stroke-width="0.5">20%</text>
<text x="4.5" y="550" font-size="12.5" fill="#000" font-weight="normal" textLength="252" lengthAdjust="spacingAndGlyphs" style="white-space:pre" stroke="#000" stroke-width="0.3">14 Month HCS Intraday Momentum (IMI): 50.0</text>
<rect x="40" y="551" width="1" height="59" fill="#d0d0d0"/>
<rect x="80" y="551" width="1" height="59" fill="#d0d0d0"/>
<rect x="120" y="551" width="1" height="59" fill="#d0d0d0"/>
<rect x="160" y="551" width="1" height="59" fill="#d0d0d0"/>
<rect x="200" y="551" width="1" height="59" fill="#d0d0d0"/>
<rect x="240" y="551" width="1" height="59" fill="#d0d0d0"/>
<rect x="280" y="551" width="1" height="59" fill="#d0d0d0"/>
<rect x="320" y="551" width="1" height="59" fill="#d0d0d0"/>
<rect x="360" y="551" width="1" height="59" fill="#d0d0d0"/>
<rect x="400" y="551" width="1" height="59" fill="#d0d0d0"/>
<rect x="440" y="551" width="1" height="59" fill="#d0d0d0"/>
<rect x="480" y="551" width="1" height="59" fill="#d0d0d0"/>
<rect x="520" y="551" width="1" height="59" fill="#d0d0d0"/>
<rect x="1" y="568" width="539" height="1" fill="#999"/>
<rect x="1" y="592" width="539" height="1" fill="#999"/>
<line x1="1" y1="580.5" x2="540" y2="580.5" stroke="#999" stroke-width="1" stroke-dasharray="5,5"/>
<rect x="114" y="570" width="6" height="21" fill="#ff0000"/>
<rect x="122" y="570" width="6" height="21" fill="#009900"/>
<rect x="138" y="570" width="6" height="21" fill="#ff0000"/>
<rect x="242" y="570" width="6" height="21" fill="#009900"/>
<rect x="410" y="570" width="6" height="21" fill="#ff0000"/>
<rect x="426" y="570" width="6" height="21" fill="#009900"/>
<rect x="506" y="570" width="6" height="21" fill="#ff0000"/>
<path d="M315 560.5h3M392 560.5h8M444 560.5h1M313 561.5h2M318 561.5h2M388 561.5h4M400 561.5h6M442 561.5h2M445 561.5h2M311 562.5h2M320 562.5h3M386 562.5h2M406 562.5h2M441 562.5h1M447 562.5h2M467 562.5h4M309 563.5h2M323 563.5h2M348 563.5h2M384 563.5h2M408 563.5h2M440 563.5h1M449 563.5h2M463 563.5h4M471 563.5h4M51 564.5h11M307 564.5h2M325 564.5h2M346 564.5h2M350 564.5h2M383 564.5h1M410 564.5h2M438 564.5h2M451 564.5h12M475 564.5h3M12 565.5h3M49 565.5h2M62 565.5h4M72 565.5h5M107 565.5h2M304 565.5h3M327 565.5h2M344 565.5h2M352 565.5h3M360 565.5h8M381 565.5h2M412 565.5h2M437 565.5h1M478 565.5h2M9 566.5h3M15 566.5h4M47 566.5h2M66 566.5h6M77 566.5h2M104 566.5h3M109 566.5h1M302 566.5h2M329 566.5h2M343 566.5h1M355 566.5h5M368 566.5h13M414 566.5h1M436 566.5h1M480 566.5h2M6 567.5h3M19 567.5h4M45 567.5h2M79 567.5h2M92 567.5h5M102 567.5h2M110 567.5h1M296 567.5h6M331 567.5h5M341 567.5h2M415 567.5h1M434 567.5h2M482 567.5h2M4 568.5h2M23 568.5h5M43 568.5h2M81 568.5h2M89 568.5h3M97 568.5h5M111 568.5h1M292 568.5h4M336 568.5h5M416 568.5h1M432 568.5h2M484 568.5h3M28 569.5h3M40 569.5h3M83 569.5h2M87 569.5h2M112 569.5h1M291 569.5h1M417 569.5h1M431 569.5h1M487 569.5h2M31 570.5h4M38 570.5h2M85 570.5h2M113 570.5h1M290 570.5h1M417 570.5h1M429 570.5h2M489 570.5h3M35 571.5h3M114 571.5h1M267 571.5h3M289 571.5h1M418 571.5h1M426 571.5h3M492 571.5h2M115 572.5h1M265 572.5h2M270 572.5h2M288 572.5h1M419 572.5h1M422 572.5h4M494 572.5h2M116 573.5h2M263 573.5h2M272 573.5h3M288 573.5h1M420 573.5h2M496 573.5h2M118 574.5h2M131 574.5h2M261 574.5h2M275 574.5h3M287 574.5h1M498 574.5h2M120 575.5h2M128 575.5h3M133 575.5h2M260 575.5h1M278 575.5h2M286 575.5h1M500 575.5h2M122 576.5h2M126 576.5h2M135 576.5h1M258 576.5h2M280 576.5h3M285 576.5h1M502 576.5h2M124 577.5h2M136 577.5h2M257 577.5h1M283 577.5h2M504 577.5h2M138 578.5h2M256 578.5h1M506 578.5h2M140 579.5h2M254 579.5h2M508 579.5h4M142 580.5h2M253 580.5h1M512 580.5h5M144 581.5h3M252 581.5h1M147 582.5h3M250 582.5h2M150 583.5h4M160 583.5h6M249 583.5h1M154 584.5h6M166 584.5h4M248 584.5h1M170 585.5h4M227 585.5h2M246 585.5h2M174 586.5h4M192 586.5h5M225 586.5h2M229 586.5h2M245 586.5h1M178 587.5h14M197 587.5h1M223 587.5h2M231 587.5h2M242 587.5h3M198 588.5h2M221 588.5h2M233 588.5h2M238 588.5h4M200 589.5h1M216 589.5h5M235 589.5h3M201 590.5h1M210 590.5h6M202 591.5h2M206 591.5h4M204 592.5h2" stroke="#000" stroke-width="1" fill="none"/>
<rect x="0" y="550" width="541" height="1" fill="#000"/>
<rect x="0" y="610" width="541" height="1" fill="#000"/>
<rect x="0" y="550" width="1" height="61" fill="#000"/>
<rect x="540" y="550" width="1" height="61" fill="#000"/>
<text x="550" y="571" font-size="9.5" fill="#000" font-weight="normal" textLength="15" lengthAdjust="spacingAndGlyphs" style="white-space:pre" stroke="#000" stroke-width="0.5">70%</text>
<text x="550" y="583" font-size="9.5" fill="#000" font-weight="normal" textLength="15" lengthAdjust="spacingAndGlyphs" style="white-space:pre" stroke="#000" stroke-width="0.5">50%</text>
<text x="550" y="595" font-size="9.5" fill="#000" font-weight="normal" textLength="15" lengthAdjust="spacingAndGlyphs" style="white-space:pre" stroke="#000" stroke-width="0.5">30%</text>
<text x="0" y="619" font-size="9.5" fill="#606060" font-weight="normal" textLength="30" lengthAdjust="spacingAndGlyphs" style="white-space:pre" stroke="#606060" stroke-width="0.15">30-Nov</text>
<text x="4" y="627" font-size="9.5" fill="#606060" font-weight="normal" textLength="20" lengthAdjust="spacingAndGlyphs" style="white-space:pre" stroke="#606060" stroke-width="0.15">2020</text>
<text x="33" y="619" font-size="9.5" fill="#606060" font-weight="normal" textLength="30" lengthAdjust="spacingAndGlyphs" style="white-space:pre" stroke="#606060" stroke-width="0.15">31-Mar</text>
<text x="37" y="627" font-size="9.5" fill="#606060" font-weight="normal" textLength="20" lengthAdjust="spacingAndGlyphs" style="white-space:pre" stroke="#606060" stroke-width="0.15">2021</text>
<text x="67" y="619" font-size="9.5" fill="#606060" font-weight="normal" textLength="30" lengthAdjust="spacingAndGlyphs" style="white-space:pre" stroke="#606060" stroke-width="0.15">31-Aug</text>
<text x="71" y="627" font-size="9.5" fill="#606060" font-weight="normal" textLength="20" lengthAdjust="spacingAndGlyphs" style="white-space:pre" stroke="#606060" stroke-width="0.15">2021</text>
<text x="107" y="619" font-size="9.5" fill="#606060" font-weight="normal" textLength="30" lengthAdjust="spacingAndGlyphs" style="white-space:pre" stroke="#606060" stroke-width="0.15">31-Jan</text>
<text x="111" y="627" font-size="9.5" fill="#606060" font-weight="normal" textLength="20" lengthAdjust="spacingAndGlyphs" style="white-space:pre" stroke="#606060" stroke-width="0.15">2022</text>
<text x="147" y="619" font-size="9.5" fill="#606060" font-weight="normal" textLength="30" lengthAdjust="spacingAndGlyphs" style="white-space:pre" stroke="#606060" stroke-width="0.15">30-Jun</text>
<text x="151" y="627" font-size="9.5" fill="#606060" font-weight="normal" textLength="20" lengthAdjust="spacingAndGlyphs" style="white-space:pre" stroke="#606060" stroke-width="0.15">2022</text>
<text x="187" y="619" font-size="9.5" fill="#606060" font-weight="normal" textLength="30" lengthAdjust="spacingAndGlyphs" style="white-space:pre" stroke="#606060" stroke-width="0.15">30-Nov</text>
<text x="191" y="627" font-size="9.5" fill="#606060" font-weight="normal" textLength="20" lengthAdjust="spacingAndGlyphs" style="white-space:pre" stroke="#606060" stroke-width="0.15">2022</text>
<text x="227" y="619" font-size="9.5" fill="#606060" font-weight="normal" textLength="30" lengthAdjust="spacingAndGlyphs" style="white-space:pre" stroke="#606060" stroke-width="0.15">28-Apr</text>
<text x="231" y="627" font-size="9.5" fill="#606060" font-weight="normal" textLength="20" lengthAdjust="spacingAndGlyphs" style="white-space:pre" stroke="#606060" stroke-width="0.15">2023</text>
<text x="267" y="619" font-size="9.5" fill="#606060" font-weight="normal" textLength="30" lengthAdjust="spacingAndGlyphs" style="white-space:pre" stroke="#606060" stroke-width="0.15">29-Sep</text>
<text x="271" y="627" font-size="9.5" fill="#606060" font-weight="normal" textLength="20" lengthAdjust="spacingAndGlyphs" style="white-space:pre" stroke="#606060" stroke-width="0.15">2023</text>
<text x="307" y="619" font-size="9.5" fill="#606060" font-weight="normal" textLength="30" lengthAdjust="spacingAndGlyphs" style="white-space:pre" stroke="#606060" stroke-width="0.15">29-Feb</text>
<text x="311" y="627" font-size="9.5" fill="#606060" font-weight="normal" textLength="20" lengthAdjust="spacingAndGlyphs" style="white-space:pre" stroke="#606060" stroke-width="0.15">2024</text>
<text x="347" y="619" font-size="9.5" fill="#606060" font-weight="normal" textLength="30" lengthAdjust="spacingAndGlyphs" style="white-space:pre" stroke="#606060" stroke-width="0.15">31-Jul</text>
<text x="351" y="627" font-size="9.5" fill="#606060" font-weight="normal" textLength="20" lengthAdjust="spacingAndGlyphs" style="white-space:pre" stroke="#606060" stroke-width="0.15">2024</text>
<text x="387" y="619" font-size="9.5" fill="#606060" font-weight="normal" textLength="30" lengthAdjust="spacingAndGlyphs" style="white-space:pre" stroke="#606060" stroke-width="0.15">31-Dec</text>
<text x="391" y="627" font-size="9.5" fill="#606060" font-weight="normal" textLength="20" lengthAdjust="spacingAndGlyphs" style="white-space:pre" stroke="#606060" stroke-width="0.15">2024</text>
<text x="427" y="619" font-size="9.5" fill="#606060" font-weight="normal" textLength="30" lengthAdjust="spacingAndGlyphs" style="white-space:pre" stroke="#606060" stroke-width="0.15">30-May</text>
<text x="431" y="627" font-size="9.5" fill="#606060" font-weight="normal" textLength="20" lengthAdjust="spacingAndGlyphs" style="white-space:pre" stroke="#606060" stroke-width="0.15">2025</text>
<text x="467" y="619" font-size="9.5" fill="#606060" font-weight="normal" textLength="30" lengthAdjust="spacingAndGlyphs" style="white-space:pre" stroke="#606060" stroke-width="0.15">31-Oct</text>
<text x="471" y="627" font-size="9.5" fill="#606060" font-weight="normal" textLength="20" lengthAdjust="spacingAndGlyphs" style="white-space:pre" stroke="#606060" stroke-width="0.15">2025</text>
<text x="507" y="619" font-size="9.5" fill="#606060" font-weight="normal" textLength="30" lengthAdjust="spacingAndGlyphs" style="white-space:pre" stroke="#606060" stroke-width="0.15">13-Mar</text>
<text x="511" y="627" font-size="9.5" fill="#606060" font-weight="normal" textLength="20" lengthAdjust="spacingAndGlyphs" style="white-space:pre" stroke="#606060" stroke-width="0.15">2026</text>
<text x="2" y="638" font-size="9" fill="#000" font-weight="normal" textLength="120" lengthAdjust="spacingAndGlyphs" style="white-space:pre" stroke="#000" stroke-width="0.35">% K - HCS IMI Crossover,</text>
<rect x="125" y="630" width="39" height="10" fill="#009900"/>
<text x="128" y="638" font-size="9.5" fill="#fff" font-weight="bold" textLength="35" lengthAdjust="spacingAndGlyphs" style="white-space:pre" stroke="#fff" stroke-width="0.3">Bullish</text>
<rect x="175" y="630" width="39" height="10" fill="#ff0000"/>
<text x="178" y="638" font-size="9.5" fill="#fff" font-weight="bold" textLength="35" lengthAdjust="spacingAndGlyphs" style="white-space:pre" stroke="#fff" stroke-width="0.3">Bearish</text>
<text x="239" y="638" font-size="9.5" fill="#ff8020" font-weight="normal" textLength="205" lengthAdjust="spacingAndGlyphs" style="white-space:pre" stroke="#ff8020" stroke-width="0.5">23.6-38.2-50-61.8% Fibonacci Retracements</text>
<text x="462.5" y="639" font-size="14" fill="#707070" font-weight="normal" textLength="10" lengthAdjust="spacingAndGlyphs" style="white-space:pre" stroke="#707070" stroke-width="0.2">©</text>
<text x="474.5" y="639" font-size="13" fill="#707070" font-weight="bold" textLength="126" lengthAdjust="spacingAndGlyphs" style="white-space:pre">HotCandlestick.com</text>
</svg>
</body></html>
